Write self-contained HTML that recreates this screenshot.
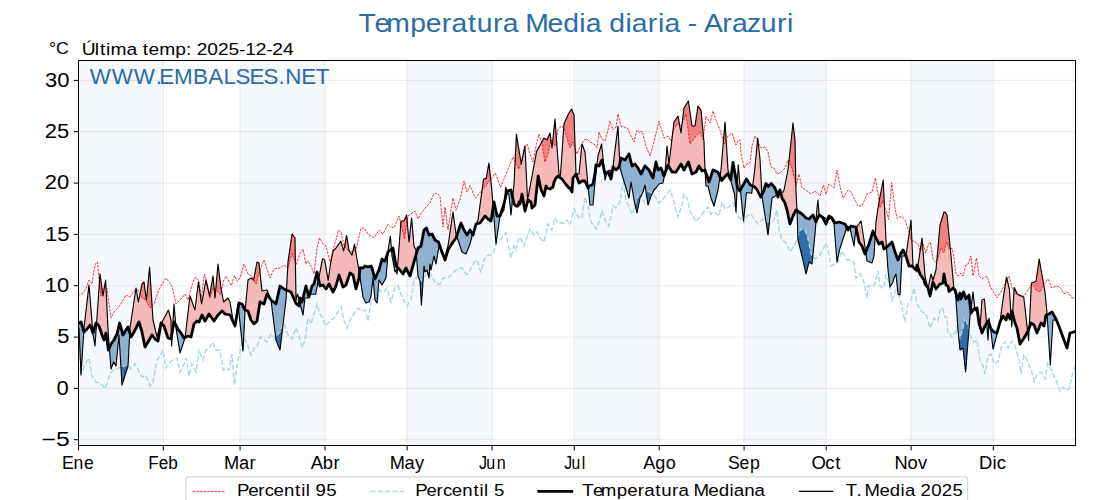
<!DOCTYPE html>
<html><head><meta charset="utf-8"><style>
html,body{margin:0;padding:0;background:#fff;}
svg{display:block;}
text{font-family:"Liberation Sans",sans-serif;}
</style></head><body>
<svg width="1120" height="500" viewBox="0 0 1120 500">
<rect width="1120" height="500" fill="#fff"/>

<defs><clipPath id="pc"><rect x="78.5" y="60.5" width="997.0" height="385.0"/></clipPath></defs>
<rect x="78.5" y="60.5" width="84.9" height="385.0" fill="#f5f8fc"/><rect x="240.1" y="60.5" width="84.9" height="385.0" fill="#f5f8fc"/><rect x="407.2" y="60.5" width="84.9" height="385.0" fill="#f5f8fc"/><rect x="574.3" y="60.5" width="84.9" height="385.0" fill="#f5f8fc"/><rect x="744.1" y="60.5" width="82.2" height="385.0" fill="#f5f8fc"/><rect x="911.2" y="60.5" width="82.2" height="385.0" fill="#f5f8fc"/>
<g stroke="#b0b0b0" stroke-opacity="0.25" stroke-width="1"><line x1="78.5" x2="1075.5" y1="439.7" y2="439.7"/><line x1="78.5" x2="1075.5" y1="388.4" y2="388.4"/><line x1="78.5" x2="1075.5" y1="337.1" y2="337.1"/><line x1="78.5" x2="1075.5" y1="285.7" y2="285.7"/><line x1="78.5" x2="1075.5" y1="234.4" y2="234.4"/><line x1="78.5" x2="1075.5" y1="183.1" y2="183.1"/><line x1="78.5" x2="1075.5" y1="131.7" y2="131.7"/><line x1="78.5" x2="1075.5" y1="80.4" y2="80.4"/><line x1="78.5" x2="78.5" y1="60.5" y2="445.5"/><line x1="163.4" x2="163.4" y1="60.5" y2="445.5"/><line x1="240.1" x2="240.1" y1="60.5" y2="445.5"/><line x1="325.0" x2="325.0" y1="60.5" y2="445.5"/><line x1="407.2" x2="407.2" y1="60.5" y2="445.5"/><line x1="492.1" x2="492.1" y1="60.5" y2="445.5"/><line x1="574.3" x2="574.3" y1="60.5" y2="445.5"/><line x1="659.2" x2="659.2" y1="60.5" y2="445.5"/><line x1="744.1" x2="744.1" y1="60.5" y2="445.5"/><line x1="826.2" x2="826.2" y1="60.5" y2="445.5"/><line x1="911.2" x2="911.2" y1="60.5" y2="445.5"/><line x1="993.3" x2="993.3" y1="60.5" y2="445.5"/></g>
<g clip-path="url(#pc)">
<path d="M83.5,330.3 84.0,328.0 84.5,323.7 85.0,319.4 85.5,315.1 86.0,310.8 86.5,306.5 87.0,302.2 87.5,297.9 88.0,293.6 88.5,289.3 89.0,285.0 89.5,291.1 90.0,297.2 90.5,303.4 91.0,309.5 91.5,315.6 92.0,321.8 92.5,327.9 93.0,333.0 93.0,333.0 92.5,331.7 92.0,330.3 91.5,329.0 91.0,327.7 90.5,326.3 90.0,325.0 89.5,325.7 89.0,326.3 88.5,327.0 88.0,327.7 87.5,328.3 87.0,329.0 86.5,329.5 86.0,330.0 85.5,330.5 85.0,331.0 84.5,331.5 84.0,332.0 83.5,330.3ZM96.5,323.5 97.0,317.2 97.5,310.0 98.0,302.8 98.5,295.6 99.0,288.4 99.5,281.2 100.0,274.0 100.5,277.7 101.0,281.3 101.5,285.0 102.0,288.7 102.5,292.3 103.0,296.0 103.5,292.9 104.0,289.8 104.5,286.8 105.0,283.7 105.5,280.6 106.0,288.2 106.5,298.3 107.0,308.5 107.5,318.7 108.0,328.9 108.5,336.9 109.0,343.3 109.5,347.5 109.5,347.5 109.0,348.6 108.5,349.8 108.0,347.2 107.5,343.6 107.0,340.1 106.5,336.5 106.0,333.0 105.5,334.8 105.0,336.5 104.5,338.2 104.0,340.0 103.5,338.8 103.0,337.5 102.5,336.2 102.0,335.0 101.5,333.5 101.0,332.0 100.5,330.5 100.0,329.0 99.5,327.5 99.0,326.0 98.5,325.5 98.0,325.0 97.5,324.5 97.0,324.0 96.5,323.5ZM129.5,332.0 130.0,328.0 130.5,324.7 131.0,321.3 131.5,318.0 132.0,314.7 132.5,311.3 133.0,308.0 133.5,304.7 134.0,301.3 134.5,298.0 135.0,294.7 135.5,291.3 136.0,288.0 136.5,290.9 137.0,293.8 137.5,296.8 138.0,299.7 138.5,301.5 139.0,299.0 139.5,296.5 140.0,294.0 140.5,291.5 141.0,289.0 141.5,286.5 142.0,284.0 142.5,283.5 143.0,283.0 143.5,282.5 144.0,282.0 144.5,285.8 145.0,289.5 145.5,293.2 146.0,297.0 146.5,299.0 147.0,293.8 147.5,288.7 148.0,283.5 148.5,278.3 149.0,273.2 149.5,268.0 150.0,273.2 150.5,281.0 151.0,288.8 151.5,296.6 152.0,304.4 152.5,312.2 153.0,320.0 153.5,322.1 154.0,324.2 154.5,326.4 155.0,328.5 155.5,330.6 156.0,332.8 156.5,334.9 157.0,337.0 157.5,335.2 158.0,333.3 158.5,331.5 159.0,329.7 159.5,327.8 160.0,326.0 160.5,325.0 161.0,323.0 161.0,323.0 160.5,326.0 160.0,329.0 159.5,332.0 159.0,335.0 158.5,338.0 158.0,341.0 157.5,340.7 157.0,340.3 156.5,340.0 156.0,339.7 155.5,339.3 155.0,339.0 154.5,338.3 154.0,337.7 153.5,337.0 153.0,336.3 152.5,335.7 152.0,335.0 151.5,335.9 151.0,336.8 150.5,337.6 150.0,338.5 149.5,339.4 149.0,340.2 148.5,341.1 148.0,342.0 147.5,342.8 147.0,343.7 146.5,344.5 146.0,345.3 145.5,346.2 145.0,347.0 144.5,344.5 144.0,342.0 143.5,339.5 143.0,337.0 142.5,334.5 142.0,332.0 141.5,330.3 141.0,328.7 140.5,327.0 140.0,325.3 139.5,323.7 139.0,322.0 138.5,323.0 138.0,324.0 137.5,325.0 137.0,326.0 136.5,327.0 136.0,328.0 135.5,329.0 135.0,330.0 134.5,331.0 134.0,332.0 133.5,332.8 133.0,333.7 132.5,334.5 132.0,335.3 131.5,336.2 131.0,337.0 130.5,335.3 130.0,333.7 129.5,332.0ZM161.0,323.0 161.5,323.1 162.0,322.2 162.5,321.2 163.0,320.3 163.5,319.3 164.0,318.4 164.5,317.4 165.0,316.5 165.5,315.5 166.0,314.6 166.5,313.6 167.0,312.7 167.5,311.7 168.0,310.8 168.5,310.4 169.0,312.3 169.5,314.2 170.0,316.2 170.5,318.1 171.0,320.0 171.5,336.2 171.5,336.2 171.0,339.0 170.5,338.8 170.0,338.7 169.5,338.5 169.0,338.3 168.5,338.2 168.0,338.0 167.5,336.5 167.0,335.0 166.5,333.5 166.0,332.0 165.5,330.5 165.0,329.0 164.5,327.5 164.0,326.0 163.5,325.5 163.0,325.0 162.5,324.5 162.0,324.0 161.5,323.5 161.0,323.0ZM172.0,333.3 172.5,330.2 173.0,321.5 173.5,312.8 174.0,304.0 174.5,310.0 175.0,316.0 175.5,322.0 176.0,325.5 176.0,325.5 175.5,324.6 175.0,323.8 174.5,322.9 174.0,322.0 173.5,324.8 173.0,327.7 172.5,330.5 172.0,333.3ZM185.0,337.5 185.5,333.8 186.0,329.6 186.5,325.4 187.0,321.2 187.5,317.0 188.0,312.8 188.5,308.6 189.0,304.4 189.5,300.2 190.0,296.0 190.5,297.4 191.0,298.8 191.5,300.2 192.0,301.6 192.5,303.0 193.0,304.4 193.5,305.8 194.0,307.2 194.5,308.6 195.0,310.0 195.5,305.9 196.0,301.8 196.5,297.6 197.0,293.5 197.5,289.4 198.0,285.3 198.5,282.7 199.0,286.1 199.5,289.6 200.0,293.0 200.5,296.4 201.0,299.9 201.5,303.3 202.0,301.8 202.5,299.1 203.0,296.4 203.5,293.6 204.0,290.9 204.5,288.2 205.0,285.5 205.5,282.7 206.0,280.0 206.5,282.2 207.0,284.4 207.5,286.7 208.0,288.9 208.5,291.1 209.0,293.3 209.5,295.6 210.0,293.6 210.5,290.7 211.0,287.8 211.5,284.8 212.0,281.9 212.5,278.9 213.0,276.0 213.5,281.5 214.0,287.0 214.5,292.5 215.0,298.0 215.5,292.3 216.0,286.7 216.5,281.0 217.0,275.3 217.5,269.7 218.0,264.0 218.5,268.0 219.0,272.0 219.5,276.0 220.0,280.0 220.5,284.0 221.0,288.0 221.5,290.7 222.0,293.4 222.5,296.1 223.0,298.8 223.5,301.5 224.0,301.6 224.5,301.2 225.0,300.7 225.5,300.3 226.0,299.8 226.5,299.4 227.0,298.9 227.5,298.5 228.0,298.0 228.5,299.0 229.0,300.0 229.5,301.0 230.0,302.0 230.5,305.0 231.0,308.0 231.5,311.0 232.0,314.0 232.5,317.0 233.0,320.0 233.5,321.5 234.0,323.0 234.5,324.5 235.0,326.0 235.0,326.0 234.5,324.9 234.0,323.8 233.5,322.7 233.0,321.6 232.5,320.5 232.0,319.4 231.5,318.3 231.0,317.2 230.5,316.1 230.0,315.0 229.5,314.9 229.0,314.8 228.5,314.7 228.0,314.6 227.5,314.5 227.0,314.4 226.5,314.3 226.0,314.2 225.5,314.1 225.0,314.0 224.5,313.5 224.0,313.0 223.5,312.5 223.0,312.0 222.5,311.5 222.0,311.0 221.5,311.5 221.0,312.0 220.5,312.5 220.0,313.0 219.5,313.5 219.0,314.0 218.5,314.5 218.0,315.0 217.5,315.8 217.0,316.5 216.5,317.2 216.0,318.0 215.5,318.8 215.0,319.5 214.5,320.2 214.0,321.0 213.5,320.3 213.0,319.6 212.5,318.9 212.0,318.2 211.5,317.5 211.0,316.8 210.5,316.1 210.0,315.4 209.5,314.7 209.0,314.0 208.5,314.9 208.0,315.8 207.5,316.6 207.0,317.5 206.5,318.4 206.0,319.2 205.5,320.1 205.0,321.0 204.5,320.0 204.0,319.0 203.5,318.0 203.0,317.0 202.5,316.0 202.0,315.0 201.5,316.2 201.0,317.3 200.5,318.5 200.0,319.7 199.5,320.8 199.0,322.0 198.5,321.8 198.0,321.5 197.5,321.2 197.0,321.0 196.5,321.5 196.0,322.0 195.5,322.5 195.0,323.0 194.5,323.5 194.0,324.0 193.5,326.2 193.0,328.3 192.5,330.5 192.0,332.7 191.5,334.8 191.0,337.0 190.5,336.8 190.0,336.7 189.5,336.5 189.0,336.3 188.5,336.2 188.0,336.0 187.5,336.2 187.0,336.5 186.5,336.8 186.0,337.0 185.5,337.2 185.0,337.5ZM235.0,326.0 235.5,322.3 236.0,318.7 236.5,315.0 237.0,311.3 237.5,307.7 238.0,304.0 238.5,305.9 238.5,305.9 238.0,308.8 237.5,311.6 237.0,314.5 236.5,317.4 236.0,320.2 235.5,323.1 235.0,326.0ZM245.0,310.0 245.5,306.7 246.0,301.3 246.5,296.0 247.0,290.7 247.5,285.3 248.0,280.0 248.5,279.7 249.0,279.3 249.5,279.0 250.0,278.7 250.5,278.3 251.0,278.0 251.5,278.4 252.0,278.8 252.5,279.2 253.0,279.5 253.5,279.9 254.0,277.9 254.5,275.2 255.0,272.6 255.5,269.9 256.0,267.3 256.5,264.6 257.0,262.0 257.5,262.2 258.0,262.5 258.5,262.8 259.0,263.0 259.5,267.7 260.0,272.3 260.5,277.0 261.0,281.7 261.5,286.3 262.0,291.0 262.5,290.9 263.0,290.8 263.5,290.7 264.0,290.6 264.5,290.5 265.0,290.4 265.5,290.3 266.0,290.2 266.5,290.1 267.0,290.0 267.5,291.2 268.0,292.5 268.5,293.8 269.0,295.0 269.5,296.2 270.0,297.5 270.5,298.8 271.0,300.0 271.0,300.0 270.5,299.2 270.0,298.5 269.5,297.8 269.0,297.0 268.5,296.2 268.0,295.5 267.5,294.8 267.0,294.0 266.5,295.7 266.0,297.3 265.5,299.0 265.0,300.7 264.5,302.3 264.0,304.0 263.5,303.8 263.0,303.5 262.5,303.2 262.0,303.0 261.5,302.8 261.0,302.5 260.5,302.2 260.0,302.0 259.5,305.2 259.0,308.3 258.5,311.5 258.0,314.7 257.5,317.8 257.0,321.0 256.5,321.5 256.0,322.0 255.5,322.5 255.0,323.0 254.5,323.5 254.0,324.0 253.5,323.3 253.0,322.7 252.5,322.0 252.0,321.3 251.5,320.7 251.0,320.0 250.5,318.5 250.0,317.0 249.5,315.5 249.0,314.0 248.5,312.5 248.0,311.0 247.5,310.8 247.0,310.7 246.5,310.5 246.0,310.3 245.5,310.2 245.0,310.0ZM286.5,290.2 287.0,281.0 287.5,271.5 288.0,262.0 288.5,258.5 289.0,255.0 289.5,251.5 290.0,248.0 290.5,244.5 291.0,241.0 291.5,237.5 292.0,234.0 292.5,234.7 293.0,235.3 293.5,236.0 294.0,236.7 294.5,237.3 295.0,238.0 295.5,269.0 296.0,300.0 296.5,298.1 297.0,296.3 297.5,294.4 298.0,295.6 298.5,297.6 299.0,299.5 299.5,301.5 300.0,298.0 300.0,298.0 299.5,302.0 299.0,306.0 298.5,305.6 298.0,305.2 297.5,304.8 297.0,304.3 296.5,303.9 296.0,303.5 295.5,302.4 295.0,301.2 294.5,300.1 294.0,298.9 293.5,297.8 293.0,296.6 292.5,295.4 292.0,294.3 291.5,293.1 291.0,292.0 290.5,291.8 290.0,291.6 289.5,291.4 289.0,291.2 288.5,291.0 288.0,290.8 287.5,290.6 287.0,290.4 286.5,290.2ZM308.5,295.2 309.0,296.0 309.5,295.0 310.0,293.3 310.0,293.3 309.5,295.2 309.0,297.0 308.5,295.2ZM318.5,279.0 319.0,277.0 319.5,274.5 320.0,271.9 320.5,269.4 321.0,266.8 321.5,264.3 322.0,261.8 322.5,259.2 323.0,258.9 323.5,259.3 324.0,259.6 324.5,259.9 325.0,261.7 325.5,264.6 326.0,267.5 326.5,270.4 327.0,273.3 327.5,276.2 328.0,279.1 328.5,278.1 329.0,274.5 329.5,270.8 330.0,267.2 330.5,264.0 331.0,261.5 331.5,259.0 332.0,256.5 332.5,254.0 333.0,251.5 333.5,250.6 334.0,250.1 334.5,249.6 335.0,249.1 335.5,248.6 336.0,248.1 336.5,247.3 337.0,246.6 337.5,245.9 338.0,245.2 338.5,244.5 339.0,243.8 339.5,243.1 340.0,242.3 340.5,241.6 341.0,241.9 341.5,243.6 342.0,245.4 342.5,247.1 343.0,248.9 343.5,250.6 344.0,248.9 344.5,246.4 345.0,243.8 345.5,241.2 346.0,238.7 346.5,236.1 347.0,238.0 347.5,240.9 348.0,243.9 348.5,246.9 349.0,249.8 349.5,251.5 350.0,252.2 350.5,253.0 351.0,253.7 351.5,254.4 352.0,255.2 352.5,253.0 353.0,250.7 353.5,248.5 354.0,246.2 354.5,244.0 355.0,247.1 355.5,250.2 356.0,253.3 356.5,256.2 357.0,259.1 357.5,262.0 358.0,264.9 358.5,267.7 359.0,270.6 359.5,273.0 359.5,273.0 359.0,278.0 358.5,279.8 358.0,281.7 357.5,283.5 357.0,285.3 356.5,287.2 356.0,289.0 355.5,286.7 355.0,284.3 354.5,282.0 354.0,279.7 353.5,277.3 353.0,275.0 352.5,274.7 352.0,274.3 351.5,274.0 351.0,273.7 350.5,273.3 350.0,273.0 349.5,274.5 349.0,276.0 348.5,277.5 348.0,279.0 347.5,280.5 347.0,282.0 346.5,283.5 346.0,285.0 345.5,285.3 345.0,285.7 344.5,286.0 344.0,286.3 343.5,286.7 343.0,287.0 342.5,285.5 342.0,284.0 341.5,282.5 341.0,281.0 340.5,279.5 340.0,278.0 339.5,276.5 339.0,275.0 338.5,276.8 338.0,278.7 337.5,280.5 337.0,282.3 336.5,284.2 336.0,286.0 335.5,287.0 335.0,288.0 334.5,289.0 334.0,290.0 333.5,291.0 333.0,292.0 332.5,291.0 332.0,290.0 331.5,289.0 331.0,288.0 330.5,287.0 330.0,286.0 329.5,285.0 329.0,284.0 328.5,284.8 328.0,285.7 327.5,286.5 327.0,287.3 326.5,288.2 326.0,289.0 325.5,288.3 325.0,287.7 324.5,287.0 324.0,286.3 323.5,285.7 323.0,285.0 322.5,285.2 322.0,285.3 321.5,285.5 321.0,285.7 320.5,285.8 320.0,286.0 319.5,283.7 319.0,281.3 318.5,279.0ZM388.0,252.0 388.5,247.4 389.0,244.4 389.5,241.4 390.0,238.4 390.5,237.3 391.0,243.5 391.5,249.2 391.5,249.2 391.0,249.6 390.5,250.0 390.0,250.4 389.5,250.8 389.0,251.2 388.5,251.6 388.0,252.0ZM397.0,267.0 397.5,267.4 398.0,260.8 398.5,254.1 399.0,247.5 399.5,240.9 400.0,234.2 400.5,227.6 401.0,221.0 401.5,221.0 402.0,221.0 402.5,221.0 403.0,221.0 403.5,221.0 404.0,221.0 404.5,219.8 405.0,218.7 405.5,217.5 406.0,216.4 406.5,215.2 407.0,219.5 407.5,225.1 408.0,230.7 408.5,236.4 409.0,242.0 409.5,237.4 410.0,232.8 410.5,228.2 411.0,223.5 411.5,218.9 412.0,222.7 412.5,228.5 413.0,234.3 413.5,240.2 414.0,246.0 414.5,247.0 415.0,248.0 415.5,249.0 416.0,250.0 416.5,253.2 416.5,253.2 416.0,255.0 415.5,256.8 415.0,258.5 414.5,260.2 414.0,262.0 413.5,263.8 413.0,265.5 412.5,267.2 412.0,269.0 411.5,270.8 411.0,272.5 410.5,274.2 410.0,276.0 409.5,275.0 409.0,274.0 408.5,273.0 408.0,272.0 407.5,271.0 407.0,270.0 406.5,269.0 406.0,268.0 405.5,269.0 405.0,270.0 404.5,271.0 404.0,272.0 403.5,273.0 403.0,274.0 402.5,273.3 402.0,272.7 401.5,272.0 401.0,271.3 400.5,270.7 400.0,270.0 399.5,269.5 399.0,269.0 398.5,268.5 398.0,268.0 397.5,267.5 397.0,267.0ZM443.0,254.7 443.5,255.5 444.0,256.0 444.5,256.5 445.0,257.0 445.5,255.2 446.0,253.3 446.5,251.5 447.0,249.7 447.5,247.8 448.0,246.0 448.5,242.6 449.0,239.2 449.5,235.8 450.0,232.4 450.5,229.0 451.0,225.6 451.5,222.2 452.0,218.8 452.5,215.4 453.0,212.0 453.5,215.7 454.0,219.3 454.5,223.0 455.0,226.7 455.5,230.3 456.0,234.0 456.5,235.5 457.0,235.0 457.0,235.0 456.5,236.5 456.0,238.0 455.5,238.7 455.0,239.3 454.5,240.0 454.0,240.7 453.5,241.3 453.0,242.0 452.5,242.8 452.0,243.6 451.5,244.4 451.0,245.2 450.5,246.0 450.0,246.8 449.5,247.6 449.0,248.4 448.5,249.2 448.0,250.0 447.5,251.7 447.0,253.3 446.5,255.0 446.0,256.7 445.5,258.3 445.0,260.0 444.5,258.7 444.0,257.3 443.5,256.0 443.0,254.7ZM472.5,234.2 473.0,233.3 473.5,232.0 474.0,230.7 474.5,229.3 475.0,227.7 475.0,227.7 474.5,229.5 474.0,231.3 473.5,233.2 473.0,235.0 472.5,234.2ZM476.5,223.9 477.0,222.7 477.5,221.3 478.0,220.0 478.5,216.3 479.0,212.6 479.5,208.9 480.0,205.2 480.5,201.5 481.0,197.8 481.5,194.1 482.0,190.4 482.5,186.7 483.0,183.0 483.5,179.3 484.0,179.1 484.5,179.0 485.0,178.8 485.5,178.6 486.0,178.5 486.5,176.7 487.0,173.9 487.5,171.0 488.0,168.2 488.5,165.4 489.0,164.0 489.5,168.5 490.0,173.0 490.5,177.5 491.0,182.0 491.5,186.5 492.0,192.5 492.5,199.0 493.0,205.4 493.5,205.2 493.5,205.2 493.0,208.3 492.5,211.5 492.0,214.7 491.5,217.8 491.0,221.0 490.5,220.7 490.0,220.3 489.5,220.0 489.0,219.7 488.5,219.3 488.0,219.0 487.5,218.5 487.0,218.0 486.5,217.5 486.0,217.0 485.5,216.5 485.0,216.0 484.5,216.7 484.0,217.4 483.5,218.1 483.0,218.8 482.5,219.5 482.0,220.2 481.5,220.9 481.0,221.6 480.5,222.3 480.0,223.0 479.5,223.1 479.0,223.2 478.5,223.4 478.0,223.5 477.5,223.6 477.0,223.8 476.5,223.9ZM504.5,201.8 505.0,195.9 505.5,188.8 506.0,188.3 506.5,189.4 507.0,190.5 507.5,190.9 507.5,190.9 507.0,191.0 506.5,193.2 506.0,195.3 505.5,197.5 505.0,199.7 504.5,201.8ZM512.5,197.0 513.0,194.3 513.5,189.2 514.0,184.0 514.5,173.6 515.0,163.3 515.5,152.9 516.0,142.6 516.5,134.9 517.0,137.9 517.5,141.0 518.0,144.0 518.5,147.0 519.0,150.1 519.5,153.1 520.0,156.1 520.5,159.2 521.0,162.2 521.5,163.0 522.0,160.5 522.5,158.0 523.0,155.5 523.5,153.0 524.0,150.5 524.5,148.0 525.0,148.0 525.5,158.0 526.0,168.0 526.5,178.0 527.0,188.0 527.5,198.0 528.0,197.8 528.5,195.1 529.0,192.4 529.5,189.7 530.0,187.0 530.5,184.3 531.0,181.6 531.5,178.9 532.0,176.2 532.5,173.5 533.0,170.8 533.5,168.1 534.0,165.4 534.5,162.7 535.0,160.0 535.5,157.3 536.0,154.6 536.5,151.9 537.0,150.7 537.5,149.8 538.0,148.9 538.5,148.0 539.0,147.1 539.5,146.1 540.0,145.2 540.5,144.3 541.0,143.4 541.5,142.5 542.0,141.6 542.5,140.7 543.0,139.8 543.5,138.9 544.0,138.0 544.5,138.3 545.0,138.7 545.5,139.0 546.0,139.3 546.5,139.7 547.0,140.0 547.5,138.8 548.0,137.7 548.5,136.5 549.0,135.3 549.5,134.2 550.0,133.0 550.5,136.8 551.0,140.5 551.5,144.2 552.0,148.0 552.5,143.2 553.0,138.3 553.5,133.5 554.0,128.7 554.5,123.8 555.0,119.0 555.5,125.9 556.0,132.8 556.5,139.6 557.0,146.5 557.5,153.4 558.0,160.2 558.5,167.1 559.0,174.0 559.5,174.7 560.0,175.4 560.5,174.6 561.0,167.3 561.5,160.1 562.0,152.9 562.5,145.7 563.0,138.4 563.5,131.2 564.0,124.0 564.5,122.9 565.0,121.7 565.5,120.6 566.0,119.5 566.5,118.3 567.0,117.2 567.5,116.0 568.0,114.9 568.5,113.8 569.0,113.1 569.5,112.3 570.0,111.5 570.5,110.7 571.0,109.9 571.5,109.2 572.0,110.0 572.5,111.2 573.0,112.5 573.5,113.7 574.0,115.0 574.5,129.8 575.0,144.5 575.5,159.2 576.0,174.0 576.0,174.0 575.5,174.7 575.0,175.3 574.5,176.0 574.0,176.7 573.5,177.3 573.0,178.0 572.5,185.0 572.0,192.0 571.5,191.0 571.0,190.0 570.5,189.0 570.0,188.0 569.5,188.0 569.0,188.0 568.5,187.4 568.0,186.8 567.5,186.2 567.0,185.7 566.5,185.1 566.0,184.5 565.5,183.8 565.0,183.1 564.5,182.4 564.0,181.8 563.5,181.1 563.0,180.4 562.5,179.7 562.0,179.0 561.5,178.7 561.0,178.3 560.5,178.0 560.0,177.7 559.5,177.3 559.0,177.0 558.5,176.5 558.0,176.0 557.5,176.5 557.0,177.0 556.5,177.5 556.0,178.0 555.5,179.0 555.0,180.0 554.5,181.0 554.0,182.0 553.5,184.5 553.0,187.0 552.5,187.3 552.0,187.7 551.5,188.0 551.0,188.3 550.5,188.7 550.0,189.0 549.5,188.8 549.0,188.7 548.5,188.5 548.0,188.3 547.5,188.2 547.0,188.0 546.5,187.0 546.0,186.0 545.5,188.5 545.0,191.0 544.5,193.5 544.0,196.0 543.5,194.9 543.0,193.8 542.5,192.8 542.0,191.7 541.5,190.6 541.0,189.5 540.5,187.1 540.0,184.7 539.5,182.3 539.0,179.9 538.5,177.4 538.0,177.8 537.5,182.3 537.0,186.9 536.5,191.4 536.0,195.9 535.5,200.5 535.0,205.0 534.5,205.5 534.0,206.0 533.5,206.5 533.0,207.0 532.5,207.5 532.0,208.0 531.5,205.0 531.0,202.0 530.5,201.7 530.0,201.3 529.5,201.0 529.0,200.7 528.5,200.3 528.0,200.0 527.5,201.8 527.0,203.7 526.5,205.5 526.0,207.3 525.5,209.2 525.0,211.0 524.5,208.2 524.0,205.3 523.5,202.5 523.0,199.7 522.5,196.8 522.0,194.0 521.5,196.5 521.0,199.0 520.5,201.5 520.0,204.0 519.5,203.0 519.0,202.0 518.5,204.0 518.0,206.0 517.5,206.0 517.0,206.0 516.5,206.0 516.0,206.0 515.5,205.5 515.0,205.0 514.5,204.5 514.0,204.0 513.5,201.7 513.0,199.3 512.5,197.0ZM576.0,174.0 576.5,174.0 577.0,174.0 577.5,174.0 578.0,174.0 578.5,174.0 579.0,174.0 579.5,169.0 580.0,164.0 580.5,159.0 581.0,154.0 581.5,149.0 582.0,144.0 582.5,145.3 583.0,146.7 583.5,148.0 584.0,149.3 584.5,150.7 585.0,152.0 585.5,157.7 586.0,163.3 586.5,169.0 587.0,174.7 587.5,180.3 588.0,186.0 588.5,187.0 588.5,187.0 588.0,188.0 587.5,186.8 587.0,185.7 586.5,184.5 586.0,183.3 585.5,182.2 585.0,181.0 584.5,181.0 584.0,181.0 583.5,181.0 583.0,181.0 582.5,181.0 582.0,181.0 581.5,181.3 581.0,181.7 580.5,182.0 580.0,182.3 579.5,182.7 579.0,183.0 578.5,181.5 578.0,180.0 577.5,178.5 577.0,177.0 576.5,175.5 576.0,174.0ZM596.5,165.2 597.0,164.7 597.5,160.3 598.0,156.0 598.5,154.3 599.0,152.7 599.5,151.0 600.0,149.3 600.5,147.7 601.0,146.0 601.5,144.3 602.0,148.0 602.5,153.0 603.0,158.0 603.5,163.0 604.0,168.0 604.5,171.7 604.5,171.7 604.0,169.3 603.5,167.0 603.0,164.7 602.5,162.3 602.0,160.0 601.5,161.0 601.0,162.0 600.5,163.0 600.0,164.0 599.5,165.0 599.0,166.0 598.5,165.8 598.0,165.7 597.5,165.5 597.0,165.3 596.5,165.2ZM606.5,173.0 607.0,172.0 607.5,171.7 608.0,171.3 608.5,171.0 609.0,170.7 609.5,170.3 610.0,170.0 610.5,171.8 611.0,173.5 611.5,175.2 612.0,173.0 612.0,173.0 611.5,176.0 611.0,179.0 610.5,177.8 610.0,176.7 609.5,175.5 609.0,174.3 608.5,173.2 608.0,172.0 607.5,172.3 607.0,172.7 606.5,173.0ZM613.0,167.0 613.5,162.8 614.0,158.0 614.5,154.0 615.0,150.0 615.5,146.0 616.0,142.0 616.5,138.0 617.0,134.0 617.5,130.0 618.0,126.0 618.5,136.5 619.0,147.0 619.5,157.5 620.0,162.5 620.0,162.5 619.5,164.8 619.0,167.0 618.5,167.5 618.0,168.0 617.5,168.5 617.0,169.0 616.5,169.5 616.0,170.0 615.5,169.5 615.0,169.0 614.5,168.5 614.0,168.0 613.5,167.5 613.0,167.0ZM664.5,174.6 665.0,173.0 665.5,166.2 666.0,159.5 666.5,152.8 667.0,146.0 667.5,150.5 668.0,155.0 668.5,159.5 669.0,164.0 669.5,159.8 670.0,155.6 670.5,151.4 671.0,147.2 671.5,143.0 672.0,138.8 672.5,134.6 673.0,130.4 673.5,126.2 674.0,122.0 674.5,121.2 675.0,120.5 675.5,119.8 676.0,119.0 676.5,118.2 677.0,117.5 677.5,116.8 678.0,116.0 678.5,118.8 679.0,121.7 679.5,124.5 680.0,127.3 680.5,130.2 681.0,133.0 681.5,128.8 682.0,124.7 682.5,120.5 683.0,116.3 683.5,112.2 684.0,108.0 684.5,107.2 685.0,106.4 685.5,105.6 686.0,104.8 686.5,104.0 687.0,103.2 687.5,102.4 688.0,101.6 688.5,101.7 689.0,105.2 689.5,108.6 690.0,112.1 690.5,115.6 691.0,119.1 691.5,122.5 692.0,126.0 692.5,126.0 693.0,126.0 693.5,126.0 694.0,126.0 694.5,126.0 695.0,126.0 695.5,122.7 696.0,119.3 696.5,116.0 697.0,112.7 697.5,109.3 698.0,106.0 698.5,106.7 699.0,107.3 699.5,108.0 700.0,108.7 700.5,109.3 701.0,110.0 701.5,115.3 702.0,120.7 702.5,126.0 703.0,131.3 703.5,136.7 704.0,142.0 704.5,156.0 705.0,170.0 705.0,170.0 704.5,170.2 704.0,170.3 703.5,170.5 703.0,170.7 702.5,170.8 702.0,171.0 701.5,170.2 701.0,169.3 700.5,168.5 700.0,167.7 699.5,166.8 699.0,166.0 698.5,167.0 698.0,168.0 697.5,169.0 697.0,170.0 696.5,171.0 696.0,172.0 695.5,172.2 695.0,172.5 694.5,172.8 694.0,173.0 693.5,173.2 693.0,173.5 692.5,173.8 692.0,174.0 691.5,172.3 691.0,170.7 690.5,169.0 690.0,167.3 689.5,165.7 689.0,164.0 688.5,162.3 688.0,162.7 687.5,163.6 687.0,164.5 686.5,165.5 686.0,166.4 685.5,167.3 685.0,168.2 684.5,169.1 684.0,170.0 683.5,169.0 683.0,168.0 682.5,167.0 682.0,166.0 681.5,165.0 681.0,164.0 680.5,164.8 680.0,165.6 679.5,166.4 679.0,167.2 678.5,168.0 678.0,168.8 677.5,169.6 677.0,170.4 676.5,171.2 676.0,172.0 675.5,172.0 675.0,172.0 674.5,172.0 674.0,172.0 673.5,172.0 673.0,172.0 672.5,172.0 672.0,172.0 671.5,171.1 671.0,170.2 670.5,169.4 670.0,168.5 669.5,167.6 669.0,166.8 668.5,165.9 668.0,165.0 667.5,166.4 667.0,167.8 666.5,169.1 666.0,170.5 665.5,171.9 665.0,173.2 664.5,174.6ZM719.5,175.6 720.0,176.7 720.5,173.3 721.0,170.0 721.5,164.0 722.0,158.0 722.5,152.0 723.0,146.0 723.5,140.0 724.0,134.0 724.5,128.0 725.0,122.0 725.5,130.0 726.0,138.0 726.5,146.0 727.0,154.0 727.5,162.0 728.0,170.0 728.5,171.9 729.0,173.8 729.5,175.6 730.0,177.5 730.5,179.3 731.0,177.5 731.0,177.5 730.5,179.4 730.0,178.4 729.5,177.4 729.0,176.4 728.5,175.4 728.0,174.4 727.5,174.0 727.0,174.5 726.5,175.0 726.0,175.5 725.5,176.0 725.0,176.5 724.5,177.0 724.0,177.7 723.5,178.3 723.0,178.9 722.5,179.5 722.0,180.1 721.5,180.1 721.0,178.9 720.5,177.8 720.0,176.7 719.5,175.6ZM737.0,185.1 737.5,179.8 738.0,169.0 738.5,168.1 739.0,173.8 739.5,179.6 740.0,185.3 740.5,189.6 740.5,189.6 740.0,190.5 739.5,190.7 739.0,190.0 738.5,189.4 738.0,188.7 737.5,188.0 737.0,185.1ZM752.5,185.9 753.0,183.1 753.5,179.3 754.0,175.4 754.5,171.5 755.0,166.8 755.5,161.5 756.0,156.1 756.5,150.8 757.0,145.5 757.5,140.1 758.0,140.8 758.5,145.5 759.0,150.2 759.5,154.8 760.0,159.5 760.5,168.6 761.0,177.8 761.5,186.9 762.0,194.4 762.0,194.4 761.5,195.4 761.0,196.4 760.5,196.6 760.0,195.6 759.5,194.6 759.0,193.6 758.5,192.5 758.0,191.5 757.5,190.5 757.0,189.5 756.5,189.0 756.0,188.5 755.5,188.0 755.0,187.5 754.5,187.0 754.0,186.5 753.5,186.3 753.0,186.1 752.5,185.9ZM777.0,194.0 777.5,194.8 778.0,194.5 778.5,194.3 779.0,192.0 779.0,192.0 778.5,194.5 778.0,197.0 777.5,195.5 777.0,194.0ZM780.5,192.0 781.0,193.0 781.5,192.8 782.0,192.5 782.5,192.2 783.0,192.0 783.5,191.0 784.0,190.0 784.5,187.5 785.0,185.0 785.5,182.5 786.0,180.0 786.5,177.5 787.0,175.0 787.5,172.5 788.0,170.0 788.5,165.3 789.0,160.6 789.5,155.9 790.0,151.2 790.5,146.5 791.0,141.8 791.5,137.1 792.0,132.4 792.5,127.7 793.0,123.0 793.5,127.2 794.0,131.5 794.5,135.8 795.0,140.0 795.5,166.0 796.0,192.0 796.5,201.0 797.0,210.0 797.5,211.0 797.5,211.0 797.0,210.7 796.5,210.3 796.0,210.0 795.5,211.0 795.0,212.0 794.5,213.0 794.0,214.0 793.5,215.0 793.0,216.0 792.5,217.3 792.0,218.7 791.5,220.0 791.0,221.3 790.5,222.7 790.0,224.0 789.5,221.7 789.0,219.3 788.5,217.0 788.0,214.7 787.5,212.3 787.0,210.0 786.5,208.2 786.0,206.5 785.5,204.8 785.0,203.0 784.5,202.2 784.0,201.3 783.5,200.5 783.0,199.7 782.5,198.8 782.0,198.0 781.5,196.0 781.0,194.0 780.5,192.0ZM815.5,220.8 816.0,221.0 816.5,214.5 817.0,208.0 817.5,204.0 818.0,200.0 818.5,207.0 819.0,214.0 819.5,214.3 820.0,214.7 820.5,215.0 821.0,215.3 821.5,215.7 822.0,216.0 822.5,216.3 823.0,216.7 823.5,217.0 824.0,217.3 824.5,217.7 825.0,218.0 825.5,218.3 826.0,218.7 826.5,219.0 827.0,219.3 827.5,219.7 828.0,218.7 828.0,218.7 827.5,220.0 827.0,221.3 826.5,222.7 826.0,224.0 825.5,223.0 825.0,222.0 824.5,221.0 824.0,220.0 823.5,219.0 823.0,218.0 822.5,217.6 822.0,217.2 821.5,216.9 821.0,216.5 820.5,216.1 820.0,215.8 819.5,215.4 819.0,215.0 818.5,216.2 818.0,217.3 817.5,218.5 817.0,219.7 816.5,220.8 816.0,222.0 815.5,220.8ZM846.5,227.0 847.0,226.0 847.5,226.3 848.0,226.7 848.5,227.0 849.0,227.3 849.5,227.7 850.0,227.3 850.0,227.3 849.5,228.0 849.0,228.7 848.5,229.3 848.0,230.0 847.5,229.0 847.0,228.0 846.5,227.0ZM856.0,227.0 856.5,227.3 857.0,226.6 857.5,225.9 858.0,225.2 858.5,224.5 859.0,223.8 859.5,223.1 860.0,222.4 860.5,221.7 861.0,221.0 861.5,224.2 862.0,227.3 862.5,230.5 863.0,233.7 863.5,236.8 864.0,240.0 864.5,243.5 865.0,247.0 865.5,250.5 866.0,251.5 866.0,251.5 865.5,252.8 865.0,254.0 864.5,252.7 864.0,251.3 863.5,250.0 863.0,248.7 862.5,247.3 862.0,246.0 861.5,245.3 861.0,244.7 860.5,244.0 860.0,243.3 859.5,242.7 859.0,242.0 858.5,239.5 858.0,237.0 857.5,234.5 857.0,232.0 856.5,229.5 856.0,227.0ZM875.0,235.7 875.5,230.5 876.0,222.0 876.5,218.7 877.0,215.3 877.5,212.0 878.0,208.7 878.5,205.3 879.0,202.0 879.5,199.4 880.0,196.8 880.5,194.1 881.0,191.5 881.5,188.9 882.0,186.3 882.5,183.7 883.0,181.0 883.5,186.4 884.0,197.1 884.5,207.9 885.0,218.6 885.5,229.3 886.0,240.0 886.5,247.1 886.5,247.1 886.0,247.5 885.5,247.9 885.0,248.2 884.5,248.6 884.0,249.0 883.5,247.2 883.0,245.5 882.5,243.8 882.0,242.0 881.5,242.3 881.0,242.7 880.5,243.0 880.0,243.3 879.5,243.7 879.0,244.0 878.5,243.0 878.0,242.0 877.5,241.0 877.0,240.0 876.5,239.0 876.0,238.0 875.5,236.8 875.0,235.7ZM906.0,256.0 906.5,252.4 907.0,248.8 907.5,245.2 908.0,241.6 908.5,238.0 909.0,234.4 909.5,230.8 910.0,227.2 910.5,223.6 911.0,220.0 911.5,231.5 912.0,243.0 912.5,254.5 913.0,266.0 913.5,266.8 914.0,267.5 914.5,268.2 915.0,269.0 915.0,269.0 914.5,268.5 914.0,268.0 913.5,267.5 913.0,267.0 912.5,266.5 912.0,266.0 911.5,266.0 911.0,266.0 910.5,266.0 910.0,266.0 909.5,266.0 909.0,266.0 908.5,264.3 908.0,262.7 907.5,261.0 907.0,259.3 906.5,257.7 906.0,256.0ZM917.5,266.5 918.0,265.2 918.5,261.8 919.0,258.4 919.5,255.0 920.0,251.6 920.5,248.2 921.0,244.8 921.5,241.4 922.0,238.0 922.5,244.3 923.0,250.7 923.5,257.0 924.0,263.3 924.5,269.7 925.0,276.0 925.5,278.2 926.0,280.3 926.5,282.5 927.0,284.7 927.5,286.8 928.0,288.0 928.0,288.0 927.5,287.3 927.0,286.7 926.5,286.0 926.0,285.3 925.5,284.7 925.0,284.0 924.5,282.0 924.0,280.0 923.5,279.2 923.0,278.5 922.5,277.8 922.0,277.0 921.5,276.2 921.0,275.5 920.5,274.8 920.0,274.0 919.5,272.5 919.0,271.0 918.5,269.5 918.0,268.0 917.5,266.5ZM928.0,288.0 928.5,286.5 929.0,284.0 929.5,281.5 930.0,279.0 930.5,276.5 931.0,274.0 931.5,275.5 932.0,277.0 932.5,278.5 933.0,280.0 933.5,278.3 934.0,276.7 934.5,275.0 935.0,273.3 935.5,271.7 936.0,270.0 936.5,264.4 937.0,258.8 937.5,253.1 938.0,247.5 938.5,241.9 939.0,236.2 939.5,230.6 940.0,225.0 940.5,223.4 941.0,221.8 941.5,220.1 942.0,218.5 942.5,216.9 943.0,215.2 943.5,213.6 944.0,212.0 944.5,212.0 945.0,212.0 945.5,212.8 946.0,213.5 946.5,214.2 947.0,215.0 947.5,220.1 948.0,225.2 948.5,230.4 949.0,235.5 949.5,240.6 950.0,245.8 950.5,250.9 951.0,256.0 951.5,261.7 952.0,267.3 952.5,273.0 953.0,278.7 953.5,284.3 954.0,289.0 954.0,289.0 953.5,288.5 953.0,288.0 952.5,288.5 952.0,289.0 951.5,289.4 951.0,289.8 950.5,290.2 950.0,290.7 949.5,291.1 949.0,291.5 948.5,288.8 948.0,286.0 947.5,285.8 947.0,285.5 946.5,285.2 946.0,285.0 945.5,282.2 945.0,279.5 944.5,276.8 944.0,274.0 943.5,278.5 943.0,283.0 942.5,283.2 942.0,283.3 941.5,283.5 941.0,283.7 940.5,283.8 940.0,284.0 939.5,284.6 939.0,285.2 938.5,285.9 938.0,286.5 937.5,287.1 937.0,287.8 936.5,288.4 936.0,289.0 935.5,287.8 935.0,286.7 934.5,285.5 934.0,284.3 933.5,283.2 933.0,282.0 932.5,284.3 932.0,286.7 931.5,289.0 931.0,291.3 930.5,293.7 930.0,296.0 929.5,294.0 929.0,292.0 928.5,290.0 928.0,288.0ZM970.5,308.5 971.0,308.0 971.5,304.0 972.0,300.0 972.5,296.0 973.0,292.0 973.5,296.5 974.0,301.0 974.5,305.5 975.0,308.7 975.0,308.7 974.5,308.8 974.0,309.0 973.5,309.7 973.0,310.3 972.5,311.0 972.0,311.7 971.5,312.3 971.0,313.0 970.5,308.5ZM978.5,319.2 979.0,322.7 979.5,324.7 979.5,324.7 979.0,323.0 978.5,319.2ZM980.0,326.3 980.5,321.0 981.0,314.0 981.5,307.0 982.0,300.0 982.5,299.8 983.0,299.6 983.5,299.4 984.0,299.2 984.5,300.1 985.0,305.7 985.5,311.3 986.0,316.8 986.5,322.4 987.0,322.7 987.0,322.7 986.5,323.5 986.0,324.3 985.5,325.2 985.0,326.0 984.5,327.2 984.0,328.3 983.5,329.5 983.0,330.7 982.5,331.8 982.0,333.0 981.5,331.3 981.0,329.7 980.5,328.0 980.0,326.3ZM988.5,322.3 989.0,318.0 989.5,321.5 990.0,325.0 990.5,327.7 990.5,327.7 990.0,326.3 989.5,325.0 989.0,323.7 988.5,322.3ZM1000.0,322.0 1000.5,318.2 1001.0,314.4 1001.5,310.5 1002.0,306.7 1002.5,303.2 1003.0,300.0 1003.5,296.7 1004.0,293.5 1004.5,290.2 1005.0,287.0 1005.5,283.7 1006.0,280.5 1006.5,277.2 1007.0,279.3 1007.5,281.3 1008.0,283.4 1008.5,285.5 1009.0,287.5 1009.5,290.8 1010.0,298.6 1010.5,306.4 1011.0,314.3 1011.5,313.0 1011.5,313.0 1011.0,315.0 1010.5,317.0 1010.0,319.0 1009.5,317.8 1009.0,316.5 1008.5,315.2 1008.0,314.0 1007.5,315.5 1007.0,317.0 1006.5,318.5 1006.0,320.0 1005.5,319.3 1005.0,318.7 1004.5,318.0 1004.0,317.3 1003.5,316.7 1003.0,316.0 1002.5,317.0 1002.0,318.0 1001.5,319.0 1001.0,320.0 1000.5,321.0 1000.0,322.0ZM1012.5,313.0 1013.0,307.2 1013.5,299.0 1014.0,290.9 1014.5,288.2 1015.0,289.2 1015.5,290.2 1016.0,291.2 1016.5,292.2 1017.0,293.2 1017.5,294.1 1018.0,294.3 1018.5,294.6 1019.0,294.8 1019.5,295.1 1020.0,295.3 1020.5,295.6 1021.0,295.8 1021.5,296.1 1022.0,296.3 1022.5,296.6 1023.0,296.8 1023.5,297.1 1024.0,299.0 1024.5,303.5 1025.0,308.0 1025.5,312.5 1026.0,317.0 1026.5,321.5 1027.0,326.0 1027.5,330.5 1028.0,331.0 1028.0,331.0 1027.5,331.9 1027.0,332.8 1026.5,333.6 1026.0,334.5 1025.5,335.4 1025.0,336.2 1024.5,337.1 1024.0,338.0 1023.5,338.8 1023.0,339.5 1022.5,340.2 1022.0,341.0 1021.5,341.8 1021.0,342.5 1020.5,343.2 1020.0,344.0 1019.5,341.3 1019.0,338.7 1018.5,336.0 1018.0,333.3 1017.5,330.7 1017.0,328.0 1016.5,326.8 1016.0,325.5 1015.5,324.2 1015.0,323.0 1014.5,321.0 1014.0,319.0 1013.5,317.0 1013.0,315.0 1012.5,313.0ZM1029.0,328.3 1029.5,321.9 1030.0,311.7 1030.5,301.5 1031.0,291.2 1031.5,283.0 1032.0,282.8 1032.5,282.6 1033.0,282.5 1033.5,282.3 1034.0,282.2 1034.5,282.0 1035.0,281.8 1035.5,281.7 1036.0,281.5 1036.5,278.0 1037.0,274.5 1037.5,271.0 1038.0,267.4 1038.5,263.9 1039.0,260.4 1039.5,260.7 1040.0,263.6 1040.5,266.4 1041.0,269.2 1041.5,272.1 1042.0,274.9 1042.5,277.8 1043.0,280.6 1043.5,283.5 1044.0,286.3 1044.5,289.2 1045.0,292.0 1045.5,297.3 1046.0,302.6 1046.5,307.9 1047.0,313.2 1047.5,314.5 1047.5,314.5 1047.0,314.7 1046.5,314.8 1046.0,315.0 1045.5,317.8 1045.0,320.5 1044.5,323.2 1044.0,326.0 1043.5,325.5 1043.0,325.0 1042.5,324.5 1042.0,324.0 1041.5,323.5 1041.0,323.0 1040.5,324.2 1040.0,325.5 1039.5,326.8 1039.0,328.0 1038.5,329.2 1038.0,330.5 1037.5,331.8 1037.0,333.0 1036.5,331.7 1036.0,330.3 1035.5,329.0 1035.0,327.7 1034.5,326.3 1034.0,325.0 1033.5,324.7 1033.0,324.3 1032.5,324.0 1032.0,323.7 1031.5,323.3 1031.0,323.0 1030.5,324.3 1030.0,325.7 1029.5,327.0 1029.0,328.3Z" fill="#f5b9b9"/>
<path d="M99.0,280.0 99.5,281.2 100.0,274.0 100.5,277.7 101.0,281.3 101.5,285.0 102.0,288.7 102.5,291.0 102.5,291.0 102.0,292.7 101.5,294.3 101.0,296.0 100.5,292.0 100.0,288.0 99.5,284.0 99.0,280.0ZM104.5,286.3 105.0,283.7 105.5,280.6 106.0,287.3 106.0,287.3 105.5,287.0 105.0,286.7 104.5,286.3ZM135.5,290.6 136.0,288.0 136.5,290.4 136.5,290.4 136.0,290.5 135.5,290.6ZM140.0,294.0 140.5,291.5 141.0,289.0 141.5,286.5 142.0,284.0 142.5,283.5 143.0,283.0 143.5,282.5 144.0,282.0 144.5,285.8 145.0,289.5 145.5,293.2 146.0,297.0 146.5,299.0 147.0,293.8 147.5,288.7 148.0,283.5 148.5,278.3 149.0,273.2 149.5,268.0 150.0,273.2 150.5,281.0 151.0,288.8 151.5,296.6 152.0,304.4 152.5,305.5 152.5,305.5 152.0,306.0 151.5,306.5 151.0,307.0 150.5,307.5 150.0,308.0 149.5,307.0 149.0,306.0 148.5,305.0 148.0,304.0 147.5,303.0 147.0,302.0 146.5,301.0 146.0,300.0 145.5,299.8 145.0,299.5 144.5,299.2 144.0,299.0 143.5,298.8 143.0,298.5 142.5,298.2 142.0,298.0 141.5,297.0 141.0,296.0 140.5,295.0 140.0,294.0ZM206.5,282.2 207.0,284.4 207.5,286.7 208.0,288.9 208.5,291.1 209.0,293.3 209.5,295.6 210.0,293.6 210.5,290.7 211.0,287.8 211.5,284.8 212.0,281.9 212.5,278.9 213.0,276.0 213.5,281.5 214.0,287.0 214.5,289.0 214.5,289.0 214.0,288.7 213.5,288.4 213.0,288.1 212.5,289.0 212.0,290.7 211.5,292.4 211.0,294.1 210.5,295.8 210.0,297.5 209.5,296.7 209.0,294.3 208.5,291.9 208.0,289.5 207.5,287.0 207.0,284.6 206.5,282.2ZM215.5,289.6 216.0,286.7 216.5,281.0 217.0,275.3 217.5,269.7 218.0,264.0 218.5,268.0 219.0,272.0 219.5,276.0 220.0,280.0 220.5,284.0 221.0,288.0 221.5,290.5 221.5,290.5 221.0,292.8 220.5,294.5 220.0,294.0 219.5,293.5 219.0,293.0 218.5,292.5 218.0,292.0 217.5,291.5 217.0,291.0 216.5,290.5 216.0,290.0 215.5,289.6ZM253.5,279.0 254.0,277.9 254.5,275.2 255.0,272.6 255.5,269.9 256.0,267.3 256.5,264.6 257.0,262.0 257.5,262.2 258.0,262.5 258.5,262.8 259.0,263.0 259.5,267.7 260.0,270.0 260.0,270.0 259.5,271.8 259.0,273.5 258.5,275.2 258.0,277.0 257.5,278.8 257.0,280.5 256.5,282.2 256.0,284.0 255.5,283.0 255.0,282.0 254.5,281.0 254.0,280.0 253.5,279.0ZM287.5,267.6 288.0,262.0 288.5,258.5 289.0,255.0 289.5,251.5 290.0,248.0 290.5,244.5 291.0,241.0 291.5,237.5 292.0,234.0 292.5,234.7 293.0,235.3 293.5,236.0 294.0,236.7 294.5,237.3 295.0,238.0 295.5,263.5 295.5,263.5 295.0,262.0 294.5,260.5 294.0,259.0 293.5,257.5 293.0,256.0 292.5,254.5 292.0,253.0 291.5,254.9 291.0,256.8 290.5,258.6 290.0,260.5 289.5,262.4 289.0,264.2 288.5,266.1 288.0,268.0 287.5,267.6ZM344.0,246.0 344.5,246.4 345.0,243.8 345.5,241.2 346.0,238.7 346.5,236.1 347.0,238.0 347.5,240.9 348.0,243.9 348.5,246.9 349.0,249.8 349.5,250.8 349.5,250.8 349.0,250.5 348.5,250.2 348.0,250.0 347.5,249.5 347.0,249.0 346.5,248.5 346.0,248.0 345.5,247.5 345.0,247.0 344.5,246.5 344.0,246.0ZM352.5,251.8 353.0,250.7 353.5,248.5 354.0,246.2 354.5,244.0 355.0,247.1 355.5,250.2 356.0,250.0 356.0,250.0 355.5,250.2 355.0,250.5 354.5,250.8 354.0,251.0 353.5,251.2 353.0,251.5 352.5,251.8ZM400.5,222.2 401.0,221.0 401.5,221.0 402.0,221.0 402.5,221.0 403.0,221.0 403.5,221.0 404.0,221.0 404.5,219.8 405.0,218.7 405.5,217.5 406.0,216.4 406.5,215.2 407.0,219.5 407.5,219.2 407.5,219.2 407.0,222.4 406.5,225.6 406.0,228.8 405.5,232.0 405.0,235.2 404.5,238.4 404.0,237.2 403.5,235.0 403.0,232.7 402.5,230.5 402.0,228.4 401.5,226.3 401.0,224.2 400.5,222.2ZM482.0,190.3 482.5,186.7 483.0,183.0 483.5,179.3 484.0,179.1 484.5,179.0 485.0,178.8 485.5,178.6 486.0,178.5 486.5,176.7 487.0,173.9 487.5,171.0 488.0,168.2 488.5,165.4 489.0,164.0 489.5,168.5 490.0,173.0 490.5,177.5 491.0,179.2 491.0,179.2 490.5,179.8 490.0,180.4 489.5,181.0 489.0,181.7 488.5,182.3 488.0,182.9 487.5,183.5 487.0,184.2 486.5,184.8 486.0,185.4 485.5,186.0 485.0,186.6 484.5,187.3 484.0,187.9 483.5,188.5 483.0,189.1 482.5,189.7 482.0,190.3ZM515.0,161.0 515.5,152.9 516.0,142.6 516.5,134.9 517.0,137.9 517.5,141.0 518.0,144.0 518.5,147.0 519.0,150.1 519.5,153.1 520.0,156.1 520.5,159.2 521.0,162.0 521.0,162.0 520.5,164.0 520.0,166.0 519.5,167.2 519.0,168.4 518.5,169.2 518.0,168.0 517.5,166.8 517.0,165.7 516.5,164.5 516.0,163.3 515.5,162.2 515.0,161.0ZM524.0,150.0 524.5,148.0 525.0,148.0 525.0,148.0 524.5,149.0 524.0,150.0ZM541.5,142.3 542.0,141.6 542.5,140.7 543.0,139.8 543.5,138.9 544.0,138.0 544.5,138.3 545.0,138.7 545.5,139.0 546.0,139.3 546.5,139.7 547.0,140.0 547.5,138.8 548.0,137.7 548.5,136.5 549.0,135.3 549.5,134.2 550.0,133.0 550.5,136.8 551.0,140.0 551.0,140.0 550.5,142.3 550.0,144.7 549.5,147.0 549.0,149.3 548.5,151.7 548.0,154.0 547.5,155.3 547.0,156.7 546.5,158.0 546.0,159.3 545.5,160.7 545.0,162.0 544.5,159.0 544.0,156.0 543.5,153.0 543.0,150.0 542.5,147.0 542.0,144.0 541.5,142.3ZM552.5,142.2 553.0,138.3 553.5,133.5 554.0,128.7 554.5,123.8 555.0,119.0 555.5,125.9 556.0,132.8 556.5,138.0 556.5,138.0 556.0,140.7 555.5,143.3 555.0,146.0 554.5,145.2 554.0,144.5 553.5,143.8 553.0,143.0 552.5,142.2ZM563.5,127.7 564.0,124.0 564.5,122.9 565.0,121.7 565.5,120.6 566.0,119.5 566.5,118.3 567.0,117.2 567.5,116.0 568.0,114.9 568.5,113.8 569.0,113.1 569.5,112.3 570.0,111.5 570.5,110.7 571.0,109.9 571.5,109.2 572.0,110.0 572.5,111.2 573.0,112.5 573.5,113.7 574.0,115.0 574.5,129.8 575.0,144.5 575.5,149.5 575.5,149.5 575.0,148.0 574.5,146.5 574.0,145.0 573.5,143.5 573.0,142.0 572.5,143.0 572.0,144.0 571.5,145.0 571.0,146.0 570.5,147.0 570.0,148.0 569.5,146.3 569.0,144.7 568.5,143.0 568.0,141.3 567.5,139.7 567.0,138.0 566.5,136.3 566.0,134.7 565.5,133.0 565.0,131.3 564.5,129.7 564.0,128.0 563.5,127.7ZM672.5,134.5 673.0,130.4 673.5,126.2 674.0,122.0 674.5,121.2 675.0,120.5 675.5,119.8 676.0,119.0 676.5,118.2 677.0,117.5 677.5,116.8 678.0,116.0 678.5,118.8 679.0,121.7 679.5,124.5 680.0,125.3 680.0,125.3 679.5,125.0 679.0,124.7 678.5,124.3 678.0,124.0 677.5,124.5 677.0,125.0 676.5,125.5 676.0,126.0 675.5,126.5 675.0,127.0 674.5,127.5 674.0,128.0 673.5,130.2 673.0,132.3 672.5,134.5ZM682.0,123.6 682.5,120.5 683.0,116.3 683.5,112.2 684.0,108.0 684.5,107.2 685.0,106.4 685.5,105.6 686.0,104.8 686.5,104.0 687.0,103.2 687.5,102.4 688.0,101.6 688.5,101.7 689.0,105.2 689.5,108.6 690.0,112.1 690.5,115.6 691.0,119.1 691.5,122.5 692.0,126.0 692.5,126.0 693.0,126.0 693.5,126.0 694.0,126.0 694.5,126.0 695.0,126.0 695.5,122.7 696.0,119.3 696.5,116.0 697.0,112.7 697.5,109.3 698.0,106.0 698.5,106.7 699.0,107.3 699.5,108.0 700.0,108.7 700.5,109.3 701.0,110.0 701.5,115.3 702.0,120.7 702.5,126.0 703.0,131.3 703.5,136.0 703.5,136.0 703.0,140.0 702.5,138.7 702.0,137.3 701.5,136.0 701.0,134.7 700.5,133.3 700.0,132.0 699.5,132.5 699.0,133.0 698.5,133.5 698.0,134.0 697.5,134.5 697.0,135.0 696.5,135.5 696.0,136.0 695.5,136.7 695.0,137.3 694.5,138.0 694.0,138.7 693.5,139.3 693.0,140.0 692.5,140.7 692.0,141.3 691.5,142.0 691.0,142.7 690.5,143.3 690.0,144.0 689.5,140.2 689.0,136.5 688.5,132.8 688.0,129.0 687.5,125.2 687.0,121.5 686.5,117.8 686.0,114.0 685.5,115.2 685.0,116.4 684.5,117.6 684.0,118.8 683.5,120.0 683.0,121.2 682.5,122.4 682.0,123.6ZM723.0,140.5 723.5,140.0 724.0,134.0 724.5,128.0 725.0,122.0 725.5,130.0 726.0,138.0 726.5,139.0 726.5,139.0 726.0,140.0 725.5,141.0 725.0,142.0 724.5,143.0 724.0,144.0 723.5,142.2 723.0,140.5ZM757.0,140.0 757.5,140.1 758.0,140.8 758.5,143.0 758.5,143.0 758.0,142.0 757.5,141.0 757.0,140.0ZM788.5,161.0 789.0,160.6 789.5,155.9 790.0,151.2 790.5,146.5 791.0,141.8 791.5,137.1 792.0,132.4 792.5,127.7 793.0,123.0 793.5,127.2 794.0,131.5 794.5,135.8 795.0,140.0 795.5,166.0 796.0,186.0 796.0,186.0 795.5,183.8 795.0,181.5 794.5,179.2 794.0,177.0 793.5,174.8 793.0,172.5 792.5,170.2 792.0,168.0 791.5,167.0 791.0,166.0 790.5,165.0 790.0,164.0 789.5,163.0 789.0,162.0 788.5,161.0ZM879.0,200.9 879.5,199.4 880.0,196.8 880.5,194.1 881.0,191.5 881.5,188.9 882.0,186.3 882.5,183.7 883.0,181.0 883.5,186.4 884.0,197.1 884.5,205.4 884.5,205.4 884.0,204.1 883.5,202.7 883.0,201.4 882.5,201.1 882.0,202.5 881.5,203.8 881.0,205.1 880.5,206.5 880.0,207.8 879.5,204.4 879.0,200.9ZM909.0,231.9 909.5,230.8 910.0,227.2 910.5,223.6 911.0,220.0 911.5,231.5 912.0,240.4 912.0,240.4 911.5,240.2 911.0,238.5 910.5,236.9 910.0,235.2 909.5,233.5 909.0,231.9ZM920.0,249.7 920.5,248.2 921.0,244.8 921.5,241.4 922.0,238.0 922.5,244.3 923.0,244.3 923.0,244.3 922.5,245.7 922.0,247.0 921.5,248.3 921.0,249.7 920.5,251.0 920.0,249.7ZM936.5,261.0 937.0,258.8 937.5,253.1 938.0,247.5 938.5,241.9 939.0,236.2 939.5,230.6 940.0,225.0 940.5,223.4 941.0,221.8 941.5,220.1 942.0,218.5 942.5,216.9 943.0,215.2 943.5,213.6 944.0,212.0 944.5,212.0 945.0,212.0 945.5,212.8 946.0,213.5 946.5,214.2 947.0,215.0 947.5,220.1 948.0,225.2 948.5,230.4 949.0,235.5 949.5,240.6 950.0,245.8 950.5,248.8 950.5,248.8 950.0,249.0 949.5,249.1 949.0,248.4 948.5,247.1 948.0,245.7 947.5,244.4 947.0,243.1 946.5,242.4 946.0,244.4 945.5,246.4 945.0,248.4 944.5,250.4 944.0,252.4 943.5,252.0 943.0,251.0 942.5,250.0 942.0,249.0 941.5,248.0 941.0,248.1 940.5,249.9 940.0,251.6 939.5,253.4 939.0,255.1 938.5,256.9 938.0,258.6 937.5,260.1 937.0,260.6 936.5,261.0ZM1005.5,283.0 1006.0,280.5 1006.5,277.2 1007.0,279.3 1007.5,279.0 1007.5,279.0 1007.0,280.0 1006.5,281.0 1006.0,282.0 1005.5,283.0ZM1013.5,290.2 1014.0,290.9 1014.5,288.2 1015.0,289.2 1015.5,290.2 1016.0,291.2 1016.5,292.2 1017.0,293.2 1017.5,294.1 1018.0,294.3 1018.5,294.6 1019.0,294.8 1019.5,295.1 1020.0,295.3 1020.5,295.6 1021.0,295.8 1021.5,296.0 1021.5,296.0 1021.0,296.0 1020.5,296.0 1020.0,296.0 1019.5,295.8 1019.0,295.5 1018.5,295.2 1018.0,295.0 1017.5,294.8 1017.0,294.5 1016.5,294.2 1016.0,294.0 1015.5,293.2 1015.0,292.5 1014.5,291.8 1014.0,291.0 1013.5,290.2ZM1031.0,285.5 1031.5,283.0 1032.0,282.8 1032.5,282.6 1033.0,282.5 1033.5,282.3 1034.0,282.2 1034.5,282.0 1035.0,281.8 1035.5,281.7 1036.0,281.5 1036.5,278.0 1037.0,274.5 1037.5,271.0 1038.0,267.4 1038.5,263.9 1039.0,260.4 1039.5,260.7 1040.0,263.6 1040.5,266.4 1041.0,269.2 1041.5,272.1 1042.0,274.9 1042.5,277.8 1043.0,280.6 1043.5,283.5 1044.0,284.0 1044.0,284.0 1043.5,285.0 1043.0,286.0 1042.5,287.0 1042.0,288.0 1041.5,289.0 1041.0,290.0 1040.5,291.0 1040.0,292.0 1039.5,291.8 1039.0,291.5 1038.5,291.2 1038.0,291.0 1037.5,290.8 1037.0,290.5 1036.5,290.2 1036.0,290.0 1035.5,289.2 1035.0,288.5 1034.5,287.8 1034.0,287.0 1033.5,286.2 1033.0,285.5 1032.5,284.8 1032.0,284.0 1031.5,284.8 1031.0,285.5Z" fill="#f08282"/>
<path d="M78.5,323.0 79.0,323.0 79.5,322.8 80.0,322.5 80.5,322.2 81.0,322.0 81.5,323.7 82.0,325.3 82.5,327.0 83.0,328.7 83.5,330.3 84.0,332.0 84.0,332.0 83.5,335.8 83.0,343.7 82.5,351.5 82.0,359.3 81.5,367.2 81.0,375.0 80.5,363.2 80.0,351.5 79.5,339.8 79.0,328.0 78.5,328.0ZM92.5,331.7 93.0,333.0 93.5,331.3 94.0,329.7 94.5,328.0 95.0,326.3 95.5,324.7 96.0,323.0 96.5,323.5 97.0,324.0 97.0,324.0 96.5,324.4 96.0,331.6 95.5,338.8 95.0,346.0 94.5,343.0 94.0,340.0 93.5,337.0 93.0,334.0 92.5,331.7ZM109.0,348.6 109.5,347.5 110.0,346.3 110.5,345.2 111.0,344.0 111.5,343.3 112.0,342.7 112.5,342.0 113.0,341.3 113.5,340.7 114.0,340.0 114.5,339.0 115.0,338.0 115.5,337.0 116.0,336.0 116.5,335.0 117.0,334.0 117.5,331.9 118.0,329.8 118.5,327.7 119.0,325.5 119.5,323.4 120.0,324.4 120.5,326.2 121.0,327.9 121.5,329.7 122.0,331.5 122.5,333.2 123.0,335.0 123.5,334.2 124.0,333.3 124.5,332.5 125.0,331.7 125.5,330.8 126.0,330.0 126.5,329.2 127.0,328.5 127.5,327.8 128.0,327.0 128.5,328.7 129.0,330.3 129.5,332.0 130.0,333.7 130.0,333.7 129.5,337.5 129.0,347.0 128.5,356.5 128.0,366.0 127.5,367.6 127.0,369.2 126.5,370.8 126.0,372.3 125.5,373.9 125.0,375.5 124.5,377.1 124.0,378.7 123.5,380.2 123.0,381.8 122.5,383.4 122.0,385.0 121.5,376.7 121.0,368.3 120.5,360.0 120.0,351.7 119.5,343.3 119.0,335.0 118.5,340.2 118.0,345.3 117.5,350.5 117.0,355.7 116.5,360.8 116.0,366.0 115.5,365.2 115.0,364.3 114.5,363.5 114.0,362.7 113.5,362.3 113.0,363.6 112.5,365.0 112.0,366.3 111.5,367.7 111.0,369.0 110.5,362.6 110.0,356.1 109.5,349.7 109.0,348.6ZM160.5,326.0 161.0,323.0 161.5,323.5 161.5,323.5 161.0,324.1 160.5,326.0ZM171.0,339.0 171.5,336.2 172.0,333.3 172.5,330.5 172.5,330.5 172.0,339.0 171.5,341.7 171.0,339.0ZM175.5,324.6 176.0,325.5 176.5,326.4 177.0,327.2 177.5,328.1 178.0,329.0 178.5,329.7 179.0,330.3 179.5,331.0 180.0,331.7 180.5,332.3 181.0,333.0 181.5,333.8 182.0,334.7 182.5,335.5 183.0,336.3 183.5,337.2 184.0,338.0 184.5,337.8 185.0,337.5 185.5,337.2 185.5,337.2 185.0,338.0 184.5,339.5 184.0,341.0 183.5,342.5 183.0,344.0 182.5,345.5 182.0,347.0 181.5,348.5 181.0,350.0 180.5,351.5 180.0,353.0 179.5,349.9 179.0,346.8 178.5,343.6 178.0,340.5 177.5,337.4 177.0,334.2 176.5,331.1 176.0,328.0 175.5,324.6ZM238.0,308.8 238.5,305.9 239.0,303.0 239.5,303.2 240.0,303.3 240.5,303.5 241.0,303.7 241.5,303.8 242.0,304.0 242.5,305.0 243.0,306.0 243.5,307.0 244.0,308.0 244.5,309.0 245.0,310.0 245.5,310.2 245.5,310.2 245.0,312.0 244.5,321.8 244.0,331.5 243.5,341.2 243.0,351.0 242.5,346.3 242.0,341.6 241.5,336.9 241.0,332.2 240.5,327.5 240.0,322.8 239.5,318.1 239.0,313.4 238.5,308.7 238.0,308.8ZM271.0,300.0 271.5,300.4 272.0,300.8 272.5,301.2 273.0,301.6 273.5,302.0 274.0,302.4 274.5,302.8 275.0,303.2 275.5,303.6 276.0,304.0 276.5,301.8 277.0,299.5 277.5,297.2 278.0,295.0 278.5,292.8 279.0,290.5 279.5,288.2 280.0,286.0 280.5,286.4 281.0,286.8 281.5,287.1 282.0,287.5 282.5,287.9 283.0,288.2 283.5,288.6 284.0,289.0 284.5,289.2 285.0,289.5 285.5,289.8 286.0,290.0 286.5,290.2 287.0,290.4 287.0,290.4 286.5,290.5 286.0,300.0 285.5,304.2 285.0,308.3 284.5,312.5 284.0,316.7 283.5,320.8 283.0,325.0 282.5,329.2 282.0,333.3 281.5,337.5 281.0,341.7 280.5,345.8 280.0,350.0 279.5,348.8 279.0,347.5 278.5,346.2 278.0,345.0 277.5,343.8 277.0,342.5 276.5,341.2 276.0,340.0 275.5,336.0 275.0,332.0 274.5,328.0 274.0,324.0 273.5,320.0 273.0,316.0 272.5,312.0 272.0,308.0 271.5,304.0 271.0,300.0ZM299.5,302.0 300.0,298.0 300.5,299.0 301.0,300.0 301.5,301.0 302.0,302.0 302.5,300.0 303.0,298.0 303.5,296.0 304.0,294.0 304.5,292.0 305.0,290.0 305.5,288.0 306.0,286.0 306.5,287.8 307.0,289.7 307.5,291.5 308.0,293.3 308.5,295.2 309.0,297.0 309.0,297.0 308.5,297.0 308.0,298.0 307.5,298.0 307.0,298.0 306.5,298.0 306.0,298.0 305.5,298.0 305.0,298.0 304.5,302.2 304.0,306.5 303.5,310.8 303.0,315.0 302.5,313.1 302.0,311.2 301.5,309.2 301.0,307.3 300.5,305.4 300.0,303.5 299.5,302.0ZM309.5,295.2 310.0,293.3 310.5,291.5 311.0,289.7 311.5,287.8 312.0,286.0 312.5,285.5 313.0,285.0 313.5,284.5 314.0,284.0 314.5,282.0 315.0,280.0 315.5,278.0 316.0,276.0 316.5,274.0 317.0,272.0 317.5,274.3 318.0,276.7 318.5,279.0 319.0,281.3 319.0,281.3 318.5,279.6 318.0,282.1 317.5,284.6 317.0,287.2 316.5,289.7 316.0,292.3 315.5,294.3 315.0,294.3 314.5,294.2 314.0,294.2 313.5,294.2 313.0,294.2 312.5,294.1 312.0,294.1 311.5,294.1 311.0,294.1 310.5,294.0 310.0,294.0 309.5,295.2ZM359.0,278.0 359.5,273.0 360.0,268.0 360.5,268.0 361.0,268.0 361.5,268.0 362.0,268.0 362.5,268.0 363.0,268.0 363.5,267.5 364.0,267.0 364.5,266.5 365.0,266.0 365.5,266.2 366.0,266.3 366.5,266.5 367.0,266.7 367.5,266.8 368.0,267.0 368.5,266.8 369.0,266.7 369.5,266.5 370.0,266.3 370.5,266.2 371.0,266.0 371.5,267.0 372.0,268.0 372.5,270.0 373.0,272.0 373.5,273.8 374.0,275.5 374.5,277.2 375.0,279.0 375.5,277.8 376.0,276.7 376.5,275.5 377.0,274.3 377.5,273.2 378.0,272.0 378.5,271.0 379.0,270.0 379.5,268.2 380.0,266.3 380.5,264.5 381.0,262.7 381.5,260.8 382.0,259.0 382.5,259.5 383.0,260.0 383.5,260.5 384.0,261.0 384.5,261.0 385.0,261.0 385.5,259.5 386.0,258.0 386.5,256.5 387.0,255.0 387.5,253.5 388.0,252.0 388.5,251.6 388.5,251.6 388.0,253.0 387.5,259.2 387.0,265.5 386.5,271.7 386.0,278.0 385.5,278.9 385.0,279.8 384.5,280.6 384.0,281.5 383.5,282.4 383.0,283.2 382.5,284.1 382.0,285.0 381.5,284.2 381.0,283.3 380.5,282.5 380.0,281.7 379.5,280.8 379.0,280.0 378.5,285.8 378.0,291.5 377.5,297.2 377.0,303.0 376.5,302.2 376.0,301.5 375.5,300.8 375.0,300.0 374.5,294.5 374.0,289.0 373.5,283.5 373.0,278.0 372.5,282.5 372.0,287.0 371.5,291.5 371.0,296.0 370.5,297.5 370.0,299.0 369.5,300.5 369.0,302.0 368.5,302.2 368.0,302.3 367.5,302.5 367.0,302.7 366.5,302.8 366.0,303.0 365.5,302.1 365.0,301.2 364.5,300.2 364.0,299.3 363.5,298.4 363.0,297.2 362.5,293.9 362.0,290.6 361.5,287.2 361.0,283.9 360.5,280.6 360.0,277.3 359.5,273.9 359.0,278.0ZM391.0,249.6 391.5,249.2 392.0,248.8 392.5,248.4 393.0,248.0 393.5,251.0 394.0,254.0 394.5,257.0 395.0,260.0 395.5,263.0 396.0,266.0 396.5,266.5 397.0,267.0 397.5,267.5 397.5,267.5 397.0,274.0 396.5,272.0 396.0,270.0 395.5,271.0 395.0,272.0 394.5,269.3 394.0,266.7 393.5,264.0 393.0,261.3 392.5,258.7 392.0,256.0 391.5,249.8 391.0,249.6ZM416.0,255.0 416.5,253.2 417.0,251.5 417.5,249.8 418.0,248.0 418.5,247.7 419.0,247.3 419.5,247.0 420.0,246.7 420.5,246.3 421.0,246.0 421.5,243.3 422.0,240.7 422.5,238.0 423.0,235.3 423.5,232.7 424.0,230.0 424.5,229.6 425.0,229.2 425.5,228.8 426.0,228.3 426.5,228.3 427.0,229.6 427.5,231.0 428.0,232.3 428.5,233.7 429.0,235.0 429.5,234.8 430.0,234.7 430.5,234.5 431.0,234.3 431.5,234.2 432.0,234.0 432.5,235.0 433.0,236.0 433.5,237.0 434.0,238.0 434.5,239.0 435.0,240.0 435.5,240.3 436.0,240.6 436.5,240.9 437.0,241.2 437.5,241.5 438.0,241.8 438.5,242.3 439.0,243.7 439.5,245.1 440.0,246.4 440.5,247.8 441.0,249.2 441.5,250.6 442.0,252.0 442.5,253.3 443.0,254.7 443.5,256.0 443.5,256.0 443.0,255.0 442.5,254.5 442.0,254.0 441.5,252.7 441.0,251.3 440.5,250.0 440.0,248.7 439.5,247.3 439.0,246.0 438.5,249.0 438.0,252.0 437.5,255.0 437.0,258.0 436.5,261.0 436.0,264.0 435.5,262.0 435.0,260.0 434.5,258.0 434.0,256.0 433.5,258.3 433.0,260.7 432.5,263.0 432.0,265.3 431.5,267.7 431.0,270.0 430.5,267.0 430.0,264.0 429.5,271.0 429.0,278.0 428.5,276.0 428.0,274.0 427.5,272.0 427.0,270.0 426.5,270.5 426.0,271.0 425.5,271.5 425.0,272.0 424.5,269.0 424.0,266.0 423.5,274.0 423.0,282.0 422.5,289.2 422.0,296.4 421.5,303.6 421.0,298.1 420.5,289.6 420.0,281.0 419.5,279.8 419.0,278.5 418.5,277.2 418.0,276.0 417.5,269.5 417.0,263.0 416.5,256.5 416.0,255.0ZM456.5,236.5 457.0,235.0 457.5,233.5 458.0,232.0 458.5,230.5 459.0,229.0 459.5,227.5 460.0,226.0 460.5,224.5 461.0,223.0 461.5,224.2 462.0,225.3 462.5,226.5 463.0,227.7 463.5,228.8 464.0,230.0 464.5,230.8 465.0,231.7 465.5,232.5 466.0,233.3 466.5,234.2 467.0,235.0 467.5,234.2 468.0,233.3 468.5,232.5 469.0,231.7 469.5,230.8 470.0,230.0 470.5,230.8 471.0,231.7 471.5,232.5 472.0,233.3 472.5,234.2 473.0,235.0 473.0,235.0 472.5,234.7 472.0,236.0 471.5,238.0 471.0,240.0 470.5,242.0 470.0,244.0 469.5,245.2 469.0,246.5 468.5,247.8 468.0,249.0 467.5,250.2 467.0,251.5 466.5,252.8 466.0,254.0 465.5,253.8 465.0,253.5 464.5,253.2 464.0,253.0 463.5,252.8 463.0,252.5 462.5,252.2 462.0,252.0 461.5,250.5 461.0,249.0 460.5,247.5 460.0,246.0 459.5,244.5 459.0,243.0 458.5,241.5 458.0,240.0 457.5,238.5 457.0,237.0 456.5,236.5ZM474.5,229.5 475.0,227.7 475.5,225.8 476.0,224.0 476.5,223.9 477.0,223.8 477.0,223.8 476.5,224.0 476.0,225.3 475.5,226.7 475.0,228.0 474.5,229.5ZM493.0,208.3 493.5,205.2 494.0,202.0 494.5,204.3 495.0,206.7 495.5,209.0 496.0,211.3 496.5,213.7 497.0,216.0 497.5,216.0 498.0,216.0 498.5,216.0 499.0,216.0 499.5,216.0 500.0,216.0 500.0,216.0 499.5,219.5 499.0,223.0 498.5,226.5 498.0,230.0 497.5,233.5 497.0,237.0 496.5,240.5 496.0,244.0 495.5,237.6 495.0,231.1 494.5,224.7 494.0,218.3 493.5,211.8 493.0,208.3ZM500.0,216.0 500.5,214.5 501.0,213.0 501.5,211.5 502.0,210.0 502.5,208.5 503.0,207.0 503.5,205.5 504.0,204.0 504.5,201.8 505.0,199.7 505.0,199.7 504.5,202.9 504.0,210.0 503.5,210.8 503.0,211.5 502.5,212.2 502.0,213.0 501.5,213.8 501.0,214.5 500.5,215.2 500.0,216.0ZM507.0,191.0 507.5,190.9 508.0,190.8 508.5,190.6 509.0,190.5 509.5,190.4 510.0,190.2 510.5,190.1 511.0,190.0 511.5,192.3 512.0,194.7 512.5,197.0 513.0,199.3 513.0,199.3 512.5,199.5 512.0,204.7 511.5,209.8 511.0,215.0 510.5,210.0 510.0,205.0 509.5,200.0 509.0,195.0 508.5,193.9 508.0,192.8 507.5,191.6 507.0,191.0ZM588.0,188.0 588.5,187.0 589.0,186.0 589.5,185.8 590.0,185.7 590.5,185.5 591.0,185.3 591.5,185.2 592.0,185.0 592.5,184.5 593.0,184.0 593.5,181.2 594.0,178.5 594.5,175.8 595.0,173.0 595.5,169.0 596.0,165.0 596.5,165.2 597.0,165.3 597.0,165.3 596.5,169.0 596.0,173.3 595.5,177.7 595.0,182.0 594.5,187.8 594.0,193.5 593.5,199.2 593.0,205.0 592.5,205.0 592.0,205.0 591.5,205.0 591.0,205.0 590.5,205.0 590.0,205.0 589.5,200.2 589.0,195.5 588.5,190.8 588.0,188.0ZM604.0,169.3 604.5,171.7 605.0,174.0 605.5,173.7 606.0,173.3 606.5,173.0 607.0,172.7 607.0,172.7 606.5,174.0 606.0,176.0 605.5,178.0 605.0,180.0 604.5,174.0 604.0,169.3ZM611.5,176.0 612.0,173.0 612.5,170.0 613.0,167.0 613.5,167.5 613.5,167.5 613.0,167.5 612.5,172.2 612.0,177.0 611.5,176.0ZM619.5,164.8 620.0,162.5 620.5,160.2 621.0,158.0 621.5,158.2 622.0,158.5 622.5,158.8 623.0,159.0 623.5,159.2 624.0,159.5 624.5,159.8 625.0,160.0 625.5,159.2 626.0,158.5 626.5,157.8 627.0,157.0 627.5,156.2 628.0,155.5 628.5,154.8 629.0,154.0 629.5,156.0 630.0,158.0 630.5,160.0 631.0,162.0 631.5,164.0 632.0,166.0 632.5,165.7 633.0,165.3 633.5,165.0 634.0,164.7 634.5,164.3 635.0,164.0 635.5,164.7 636.0,165.3 636.5,166.0 637.0,166.7 637.5,167.3 638.0,168.0 638.5,169.0 639.0,170.0 639.5,171.0 640.0,172.0 640.5,173.0 641.0,174.0 641.5,173.0 642.0,172.0 642.5,171.0 643.0,170.0 643.5,169.0 644.0,168.0 644.5,167.0 645.0,166.0 645.5,166.5 646.0,167.0 646.5,167.5 647.0,168.0 647.5,168.5 648.0,169.0 648.5,169.5 649.0,170.0 649.5,171.0 650.0,172.0 650.5,173.0 651.0,174.0 651.5,175.0 652.0,176.0 652.5,177.0 653.0,178.0 653.5,175.3 654.0,172.7 654.5,170.0 655.0,167.3 655.5,164.7 656.0,162.0 656.5,164.0 657.0,166.0 657.5,168.0 658.0,170.0 658.5,169.7 659.0,169.3 659.5,169.0 660.0,168.7 660.5,168.3 661.0,168.0 661.5,169.3 662.0,170.7 662.5,172.0 663.0,173.3 663.5,174.7 664.0,176.0 664.5,174.6 665.0,173.2 665.0,173.2 664.5,175.5 664.0,178.0 663.5,180.5 663.0,183.0 662.5,183.1 662.0,183.2 661.5,183.4 661.0,183.5 660.5,183.6 660.0,183.8 659.5,183.9 659.0,184.0 658.5,184.7 658.0,185.3 657.5,186.0 657.0,186.7 656.5,187.3 656.0,188.0 655.5,188.5 655.0,189.0 654.5,189.5 654.0,190.0 653.5,191.0 653.0,192.0 652.5,193.0 652.0,194.0 651.5,195.0 651.0,196.0 650.5,197.5 650.0,199.0 649.5,200.5 649.0,202.0 648.5,203.5 648.0,205.0 647.5,201.7 647.0,198.3 646.5,195.0 646.0,191.7 645.5,188.3 645.0,185.0 644.5,186.8 644.0,188.5 643.5,190.2 643.0,192.0 642.5,193.0 642.0,194.0 641.5,195.0 641.0,196.0 640.5,197.0 640.0,198.0 639.5,200.5 639.0,203.0 638.5,205.5 638.0,208.0 637.5,210.5 637.0,213.0 636.5,210.8 636.0,208.7 635.5,206.5 635.0,204.3 634.5,202.2 634.0,200.0 633.5,197.0 633.0,194.0 632.5,191.0 632.0,188.0 631.5,185.0 631.0,182.0 630.5,186.0 630.0,190.0 629.5,194.0 629.0,198.0 628.5,196.3 628.0,194.7 627.5,193.0 627.0,191.3 626.5,189.7 626.0,188.0 625.5,186.3 625.0,184.7 624.5,183.0 624.0,181.3 623.5,179.7 623.0,178.0 622.5,176.3 622.0,174.7 621.5,173.0 621.0,171.3 620.5,169.7 620.0,168.0 619.5,164.8ZM705.0,170.0 705.5,171.5 706.0,173.0 706.5,174.5 707.0,176.0 707.5,177.5 708.0,179.0 708.5,180.5 709.0,182.0 709.5,180.5 710.0,179.0 710.5,177.5 711.0,176.0 711.5,174.5 712.0,173.0 712.5,171.5 713.0,170.0 713.5,170.2 714.0,170.4 714.5,170.6 715.0,170.8 715.5,171.1 716.0,171.3 716.5,171.6 717.0,171.8 717.5,172.1 718.0,172.3 718.5,173.4 719.0,174.5 719.5,175.6 720.0,176.7 720.0,176.7 719.5,180.0 719.0,183.3 718.5,186.7 718.0,190.0 717.5,192.0 717.0,194.0 716.5,196.0 716.0,198.0 715.5,200.0 715.0,202.0 714.5,204.0 714.0,206.0 713.5,204.7 713.0,203.3 712.5,202.0 712.0,200.7 711.5,199.3 711.0,198.0 710.5,196.0 710.0,194.0 709.5,192.0 709.0,190.0 708.5,188.0 708.0,186.0 707.5,186.0 707.0,186.0 706.5,186.0 706.0,186.0 705.5,178.0 705.0,170.0ZM730.5,179.4 731.0,177.5 731.5,173.8 732.0,170.0 732.5,166.3 733.0,162.5 733.5,165.2 734.0,168.0 734.5,170.7 735.0,173.4 735.5,176.3 736.0,179.2 736.5,182.1 737.0,185.1 737.5,188.0 737.5,188.0 737.0,190.5 736.5,201.3 736.0,212.0 735.5,206.0 735.0,200.0 734.5,194.0 734.0,192.2 733.5,190.3 733.0,188.5 732.5,186.7 732.0,184.8 731.5,183.0 731.0,181.2 730.5,179.4ZM740.0,190.5 740.5,189.6 741.0,188.7 741.5,187.9 742.0,187.0 742.5,186.1 743.0,185.3 743.5,184.4 744.0,183.5 744.5,182.6 745.0,181.7 745.5,180.8 746.0,179.9 746.5,179.0 747.0,179.8 747.5,180.6 748.0,181.4 748.5,182.2 749.0,183.1 749.5,183.9 750.0,184.7 750.5,185.1 751.0,185.3 751.5,185.5 752.0,185.7 752.5,185.9 753.0,186.1 753.0,186.1 752.5,187.0 752.0,190.9 751.5,193.2 751.0,193.1 750.5,193.0 750.0,193.0 749.5,192.9 749.0,192.8 748.5,192.8 748.0,192.7 747.5,192.6 747.0,192.6 746.5,192.5 746.0,197.2 745.5,202.0 745.0,206.8 744.5,211.5 744.0,216.2 743.5,221.0 743.0,216.0 742.5,211.0 742.0,206.0 741.5,201.0 741.0,196.0 740.5,191.0 740.0,190.5ZM761.5,195.4 762.0,194.4 762.5,193.4 763.0,192.4 763.5,191.4 764.0,190.0 764.5,188.4 765.0,186.8 765.5,185.1 766.0,183.5 766.5,184.2 767.0,184.9 767.5,185.5 768.0,186.2 768.5,186.2 769.0,185.7 769.5,185.2 770.0,184.7 770.5,184.2 771.0,183.7 771.5,183.9 772.0,184.4 772.5,185.0 773.0,185.6 773.5,186.2 774.0,186.8 774.5,187.4 775.0,188.0 775.5,189.5 776.0,191.0 776.5,192.5 777.0,194.0 777.5,195.5 777.5,195.5 777.0,195.1 776.5,195.4 776.0,195.6 775.5,195.9 775.0,196.2 774.5,196.5 774.0,196.7 773.5,197.0 773.0,197.3 772.5,197.7 772.0,198.0 771.5,202.6 771.0,207.2 770.5,211.9 770.0,216.5 769.5,221.1 769.0,225.8 768.5,230.4 768.0,235.0 767.5,231.8 767.0,228.5 766.5,225.2 766.0,222.0 765.5,218.8 765.0,215.5 764.5,212.2 764.0,209.0 763.5,205.8 763.0,202.5 762.5,199.2 762.0,196.0 761.5,195.4ZM778.5,194.5 779.0,192.0 779.5,191.0 780.0,190.0 780.5,192.0 781.0,194.0 781.0,194.0 780.5,193.2 780.0,193.5 779.5,193.8 779.0,194.0 778.5,194.5ZM797.0,210.7 797.5,211.0 798.0,211.3 798.5,211.7 799.0,212.0 799.5,212.3 800.0,212.7 800.5,213.0 801.0,213.3 801.5,213.7 802.0,214.0 802.5,214.5 803.0,215.0 803.5,215.5 804.0,216.0 804.5,216.5 805.0,217.0 805.5,217.5 806.0,218.0 806.5,218.2 807.0,218.3 807.5,218.5 808.0,218.7 808.5,218.8 809.0,219.0 809.5,218.5 810.0,218.0 810.5,217.5 811.0,217.0 811.5,216.5 812.0,216.0 812.5,215.5 813.0,215.0 813.5,216.2 814.0,217.3 814.5,218.5 815.0,219.7 815.5,220.8 816.0,222.0 816.0,222.0 815.5,227.5 815.0,234.0 814.5,239.0 814.0,244.0 813.5,249.0 813.0,254.0 812.5,259.0 812.0,264.0 811.5,263.7 811.0,263.3 810.5,263.0 810.0,262.7 809.5,262.3 809.0,262.0 808.5,264.0 808.0,266.0 807.5,268.0 807.0,270.0 806.5,272.0 806.0,274.0 805.5,271.8 805.0,269.5 804.5,267.2 804.0,265.0 803.5,262.8 803.0,260.5 802.5,258.2 802.0,256.0 801.5,254.0 801.0,252.0 800.5,250.0 800.0,248.0 799.5,246.0 799.0,244.0 798.5,242.0 798.0,240.0 797.5,225.0 797.0,210.7ZM827.5,220.0 828.0,218.7 828.5,217.3 829.0,216.0 829.5,216.3 830.0,216.7 830.5,217.0 831.0,217.3 831.5,217.7 832.0,218.0 832.5,218.8 833.0,219.7 833.5,220.5 834.0,221.3 834.5,222.2 835.0,223.0 835.5,222.9 836.0,222.8 836.5,222.6 837.0,222.5 837.5,222.4 838.0,222.2 838.5,222.1 839.0,222.0 839.5,222.2 840.0,222.3 840.5,222.5 841.0,222.7 841.5,222.8 842.0,223.0 842.5,223.2 843.0,223.3 843.5,223.5 844.0,223.7 844.5,223.8 845.0,224.0 845.5,225.0 846.0,226.0 846.5,227.0 847.0,228.0 847.0,228.0 846.5,227.8 846.0,229.5 845.5,231.2 845.0,233.0 844.5,234.5 844.0,236.0 843.5,237.5 843.0,239.0 842.5,240.5 842.0,242.0 841.5,243.5 841.0,245.0 840.5,246.5 840.0,248.0 839.5,250.3 839.0,252.7 838.5,255.0 838.0,257.3 837.5,259.7 837.0,262.0 836.5,255.7 836.0,249.3 835.5,243.0 835.0,236.7 834.5,230.3 834.0,224.0 833.5,223.0 833.0,222.0 832.5,221.0 832.0,220.0 831.5,219.0 831.0,218.0 830.5,218.3 830.0,218.7 829.5,219.0 829.0,219.3 828.5,219.7 828.0,220.0 827.5,220.0ZM849.5,228.0 850.0,227.3 850.5,226.7 851.0,226.0 851.5,226.1 852.0,226.2 852.5,226.3 853.0,226.4 853.5,226.5 854.0,226.6 854.5,226.7 855.0,226.8 855.5,226.9 856.0,227.0 856.5,229.5 856.5,229.5 856.0,228.0 855.5,232.5 855.0,237.0 854.5,241.5 854.0,246.0 853.5,243.8 853.0,241.5 852.5,239.2 852.0,237.0 851.5,234.8 851.0,232.5 850.5,230.2 850.0,228.0 849.5,228.0ZM865.5,252.8 866.0,251.5 866.5,250.2 867.0,249.0 867.5,247.8 868.0,246.5 868.5,245.2 869.0,244.0 869.5,242.4 870.0,240.8 870.5,239.1 871.0,237.5 871.5,235.9 872.0,234.2 872.5,232.6 873.0,231.0 873.5,232.2 874.0,233.3 874.5,234.5 875.0,235.7 875.5,236.8 875.5,236.8 875.0,239.0 874.5,247.5 874.0,256.0 873.5,257.8 873.0,259.5 872.5,261.2 872.0,263.0 871.5,262.8 871.0,262.6 870.5,262.4 870.0,262.2 869.5,262.0 869.0,261.8 868.5,261.6 868.0,261.4 867.5,261.2 867.0,261.0 866.5,257.5 866.0,254.0 865.5,252.8ZM886.0,247.5 886.5,247.1 887.0,246.8 887.5,246.4 888.0,246.0 888.5,245.5 889.0,245.0 889.5,244.5 890.0,244.0 890.5,243.5 891.0,243.0 891.5,242.5 892.0,242.0 892.5,243.7 893.0,245.3 893.5,247.0 894.0,248.7 894.5,250.3 895.0,252.0 895.5,253.3 896.0,254.7 896.5,256.0 897.0,257.3 897.5,258.7 898.0,260.0 898.5,258.8 899.0,257.7 899.5,256.5 900.0,255.3 900.5,254.2 901.0,253.0 901.5,252.2 902.0,251.5 902.5,250.8 903.0,250.0 903.5,251.0 904.0,252.0 904.5,253.0 905.0,254.0 905.5,255.0 906.0,256.0 906.0,256.0 905.5,256.0 905.0,256.0 904.5,256.0 904.0,256.0 903.5,256.0 903.0,256.0 902.5,256.0 902.0,256.0 901.5,265.8 901.0,275.5 900.5,285.2 900.0,295.0 899.5,294.8 899.0,294.5 898.5,294.2 898.0,294.0 897.5,289.0 897.0,284.0 896.5,279.0 896.0,274.0 895.5,275.0 895.0,276.0 894.5,277.0 894.0,278.0 893.5,280.0 893.0,282.0 892.5,282.8 892.0,283.7 891.5,284.5 891.0,285.3 890.5,286.2 890.0,287.0 889.5,282.8 889.0,278.5 888.5,274.2 888.0,270.0 887.5,262.5 887.0,255.0 886.5,247.5 886.0,247.5ZM915.0,269.0 915.5,269.5 916.0,270.0 916.5,267.5 917.0,265.0 917.5,266.5 918.0,268.0 918.0,268.0 917.5,268.6 917.0,272.0 916.5,271.2 916.0,270.5 915.5,269.8 915.0,269.0ZM927.5,287.3 928.0,288.0 928.5,290.0 928.5,290.0 928.0,289.0 927.5,287.3ZM953.5,288.5 954.0,289.0 954.5,289.5 955.0,290.0 955.0,290.0 954.5,290.0 954.0,290.0 953.5,288.5ZM955.0,290.0 955.5,291.8 956.0,293.5 956.5,295.1 957.0,296.8 957.5,298.4 958.0,300.0 958.5,298.2 959.0,296.5 959.5,294.8 960.0,293.0 960.5,296.0 961.0,299.0 961.5,297.7 962.0,296.3 962.5,295.0 963.0,293.6 963.5,292.3 964.0,293.2 964.5,294.6 965.0,296.1 965.5,297.5 966.0,299.0 966.5,298.3 967.0,297.7 967.5,297.0 968.0,296.3 968.5,295.7 969.0,295.0 969.5,299.5 970.0,304.0 970.5,308.5 971.0,313.0 971.0,313.0 970.5,312.0 970.0,316.0 969.5,322.4 969.0,328.7 968.5,335.1 968.0,341.5 967.5,347.8 967.0,354.2 966.5,360.5 966.0,366.9 965.5,371.1 965.0,366.5 964.5,361.8 964.0,357.2 963.5,352.6 963.0,348.0 962.5,348.3 962.0,348.7 961.5,349.0 961.0,349.3 960.5,349.7 960.0,350.0 959.5,345.0 959.0,340.0 958.5,335.0 958.0,330.0 957.5,322.5 957.0,315.0 956.5,307.5 956.0,300.0 955.5,295.0 955.0,290.0ZM974.5,308.8 975.0,308.7 975.5,308.5 976.0,308.3 976.5,308.2 977.0,308.0 977.5,311.8 978.0,315.5 978.5,319.2 979.0,323.0 979.0,323.0 978.5,320.0 978.0,317.3 977.5,314.7 977.0,312.0 976.5,311.5 976.0,311.0 975.5,310.5 975.0,310.0 974.5,308.8ZM979.0,323.0 979.5,324.7 980.0,326.3 980.5,328.0 980.5,328.0 980.0,328.0 979.5,325.3 979.0,323.0ZM986.5,323.5 987.0,322.7 987.5,321.8 988.0,321.0 988.5,322.3 989.0,323.7 989.0,323.7 988.5,329.0 988.0,340.0 987.5,334.0 987.0,328.0 986.5,323.5ZM990.0,326.3 990.5,327.7 991.0,329.0 991.5,329.5 992.0,330.0 992.5,330.5 993.0,331.0 993.5,331.5 994.0,332.0 994.5,332.2 995.0,332.3 995.5,332.5 996.0,332.7 996.5,332.8 997.0,333.0 997.5,331.2 998.0,329.3 998.5,327.5 999.0,325.7 999.5,323.8 1000.0,322.0 1000.0,322.0 999.5,324.0 999.0,326.0 998.5,328.0 998.0,330.0 997.5,332.0 997.0,334.0 996.5,336.0 996.0,338.0 995.5,339.8 995.0,341.7 994.5,343.5 994.0,345.3 993.5,347.2 993.0,349.0 992.5,344.8 992.0,340.5 991.5,336.2 991.0,332.0 990.5,328.5 990.0,326.3ZM1011.0,315.0 1011.5,313.0 1012.0,311.0 1012.5,313.0 1013.0,315.0 1013.0,315.0 1012.5,315.4 1012.0,323.5 1011.5,322.1 1011.0,315.0ZM1027.5,331.9 1028.0,331.0 1028.5,329.7 1029.0,328.3 1029.5,327.0 1029.5,327.0 1029.0,332.2 1028.5,339.5 1028.0,335.0 1027.5,331.9ZM1047.0,314.7 1047.5,314.5 1048.0,314.3 1048.5,314.2 1049.0,314.0 1049.5,313.7 1050.0,313.3 1050.5,313.0 1051.0,312.7 1051.5,312.3 1052.0,312.0 1052.5,312.9 1053.0,313.8 1053.5,314.6 1054.0,315.5 1054.5,316.4 1055.0,317.2 1055.5,318.1 1056.0,319.0 1056.3,319.8 1056.3,320.0 1056.0,320.0 1055.5,320.0 1055.0,320.0 1054.5,320.0 1054.0,320.0 1053.5,320.0 1053.0,320.0 1052.5,328.3 1052.0,336.7 1051.5,345.0 1051.0,353.3 1050.5,361.7 1050.0,360.3 1049.5,352.4 1049.0,344.6 1048.5,336.7 1048.0,328.9 1047.5,321.0 1047.0,314.7Z" fill="#8fb1d1"/>
<path d="M80.5,370.0 81.0,370.7 81.5,371.3 81.5,371.3 81.0,375.0 80.5,370.0ZM120.5,367.5 121.0,367.4 121.5,367.2 122.0,367.1 122.5,367.0 123.0,366.8 123.5,366.5 124.0,366.2 124.5,365.9 125.0,365.6 125.5,365.4 126.0,365.1 126.5,364.8 127.0,364.5 127.5,364.8 128.0,365.5 128.5,366.3 128.5,366.3 128.0,366.0 127.5,367.6 127.0,369.2 126.5,370.8 126.0,372.3 125.5,373.9 125.0,375.5 124.5,377.1 124.0,378.7 123.5,380.2 123.0,381.8 122.5,383.4 122.0,385.0 121.5,376.7 121.0,368.3 120.5,367.5ZM242.0,344.0 242.5,343.2 243.0,342.3 243.5,341.5 243.5,341.5 243.0,351.0 242.5,346.3 242.0,344.0ZM275.5,337.4 276.0,336.8 276.5,336.2 277.0,335.6 277.5,335.0 278.0,334.4 278.5,333.8 279.0,333.2 279.5,332.6 280.0,332.0 280.5,330.9 281.0,329.8 281.5,328.6 282.0,327.5 282.5,326.4 283.0,325.2 283.0,325.2 282.5,329.2 282.0,333.3 281.5,337.5 281.0,341.7 280.5,345.8 280.0,350.0 279.5,348.8 279.0,347.5 278.5,346.2 278.0,345.0 277.5,343.8 277.0,342.5 276.5,341.2 276.0,340.0 275.5,337.4ZM375.0,300.0 375.5,300.5 376.0,301.0 376.5,301.5 377.0,302.0 377.5,300.0 377.5,300.0 377.0,303.0 376.5,302.2 376.0,301.5 375.5,300.8 375.0,300.0ZM418.0,276.0 418.5,276.8 419.0,277.7 419.5,278.5 420.0,279.3 420.5,280.2 421.0,281.0 421.5,280.4 422.0,279.8 422.5,279.1 423.0,278.5 423.5,277.9 423.5,277.9 423.0,282.0 422.5,289.2 422.0,296.4 421.5,303.6 421.0,298.1 420.5,289.6 420.0,281.0 419.5,279.8 419.0,278.5 418.5,277.2 418.0,276.0ZM427.5,273.5 428.0,273.0 428.5,272.5 429.0,272.0 429.5,272.8 429.5,272.8 429.0,278.0 428.5,276.0 428.0,274.0 427.5,273.5ZM635.0,205.0 635.5,203.5 636.0,202.0 636.5,200.8 637.0,199.5 637.5,198.2 638.0,197.0 638.5,195.8 639.0,194.5 639.5,193.2 640.0,192.0 640.5,193.2 641.0,194.5 641.5,195.8 641.5,195.8 641.0,196.0 640.5,197.0 640.0,198.0 639.5,200.5 639.0,203.0 638.5,205.5 638.0,208.0 637.5,210.5 637.0,213.0 636.5,210.8 636.0,208.7 635.5,206.5 635.0,205.0ZM646.0,194.7 646.5,192.8 647.0,191.0 647.5,191.2 648.0,191.3 648.5,191.5 649.0,191.7 649.5,191.8 650.0,192.0 650.5,192.4 651.0,192.8 651.5,193.2 652.0,193.6 652.5,194.0 652.5,194.0 652.0,194.0 651.5,195.0 651.0,196.0 650.5,197.5 650.0,199.0 649.5,200.5 649.0,202.0 648.5,203.5 648.0,205.0 647.5,201.7 647.0,198.3 646.5,195.0 646.0,194.7ZM735.5,209.7 736.0,211.0 736.5,212.2 736.5,212.2 736.0,212.0 735.5,209.7ZM765.5,220.5 766.0,220.8 766.5,221.1 767.0,221.4 767.5,221.7 768.0,222.0 768.5,222.2 769.0,222.3 769.5,222.5 769.5,222.5 769.0,225.8 768.5,230.4 768.0,235.0 767.5,231.8 767.0,228.5 766.5,225.2 766.0,222.0 765.5,220.5ZM797.5,238.3 798.0,236.7 798.5,235.0 799.0,233.3 799.5,231.7 800.0,230.0 800.5,229.8 801.0,229.5 801.5,229.2 802.0,229.0 802.5,228.8 803.0,228.5 803.5,228.2 804.0,228.0 804.5,229.2 805.0,230.5 805.5,231.8 806.0,233.0 806.5,234.2 807.0,235.5 807.5,236.8 808.0,238.0 808.5,240.7 809.0,243.3 809.5,246.0 810.0,248.7 810.5,251.3 811.0,254.0 811.5,254.6 812.0,255.2 812.5,255.9 813.0,256.5 813.0,256.5 812.5,259.0 812.0,264.0 811.5,263.7 811.0,263.3 810.5,263.0 810.0,262.7 809.5,262.3 809.0,262.0 808.5,264.0 808.0,266.0 807.5,268.0 807.0,270.0 806.5,272.0 806.0,274.0 805.5,271.8 805.0,269.5 804.5,267.2 804.0,265.0 803.5,262.8 803.0,260.5 802.5,258.2 802.0,256.0 801.5,254.0 801.0,252.0 800.5,250.0 800.0,248.0 799.5,246.0 799.0,244.0 798.5,242.0 798.0,240.0 797.5,238.3ZM889.5,284.6 890.0,286.0 890.5,289.5 890.5,289.5 890.0,287.0 889.5,284.6ZM958.0,330.7 958.5,332.5 959.0,334.3 959.5,336.2 960.0,338.0 960.5,336.3 961.0,334.7 961.5,333.0 962.0,331.3 962.5,329.7 963.0,328.0 963.5,325.2 964.0,322.5 964.5,319.8 965.0,317.0 965.5,318.5 966.0,320.0 966.5,321.5 967.0,323.0 967.5,324.5 968.0,326.0 968.5,328.0 969.0,330.0 969.0,330.0 968.5,335.1 968.0,341.5 967.5,347.8 967.0,354.2 966.5,360.5 966.0,366.9 965.5,371.1 965.0,366.5 964.5,361.8 964.0,357.2 963.5,352.6 963.0,348.0 962.5,348.3 962.0,348.7 961.5,349.0 961.0,349.3 960.5,349.7 960.0,350.0 959.5,345.0 959.0,340.0 958.5,335.0 958.0,330.7Z" fill="#2f6ea8"/>
<path d="M78.5,368.0 L79.0,368.0 L82.0,372.0 L85.0,364.0 L89.0,358.0 L92.0,376.0 L96.0,382.0 L98.6,383.2 L101.8,384.5 L105.1,388.4 L107.7,382.0 L110.3,372.9 L112.9,370.3 L119.4,367.7 L122.6,367.0 L127.2,364.4 L130.4,369.0 L135.0,363.8 L138.9,371.6 L142.1,376.8 L146.0,375.5 L150.0,386.0 L153.0,382.0 L157.0,360.0 L160.0,356.0 L163.0,350.0 L166.0,368.0 L170.0,362.0 L174.0,359.0 L177.0,358.0 L180.0,372.0 L184.0,364.0 L186.0,358.0 L189.0,376.0 L192.0,364.0 L196.0,372.0 L199.0,350.0 L203.0,360.0 L206.0,350.0 L209.0,348.0 L213.0,342.0 L216.0,350.0 L220.0,350.0 L223.0,370.0 L226.0,368.0 L229.0,370.0 L232.0,354.0 L234.4,385.0 L238.0,360.0 L242.0,344.0 L245.0,339.0 L248.0,346.0 L251.0,355.0 L254.0,348.0 L257.0,347.0 L260.0,337.0 L263.0,339.0 L267.0,342.0 L271.0,334.0 L275.0,338.0 L280.0,332.0 L284.0,323.0 L288.0,335.0 L292.0,339.0 L296.0,328.0 L299.0,336.0 L300.0,340.0 L302.0,348.0 L305.0,340.0 L308.0,318.0 L311.0,324.0 L314.0,314.0 L317.0,304.0 L320.0,314.0 L323.0,318.0 L325.0,326.0 L329.0,322.0 L334.0,318.0 L338.0,312.0 L341.0,307.0 L344.0,320.0 L347.0,328.0 L351.0,318.0 L354.0,314.0 L358.0,308.0 L362.0,311.0 L365.0,310.0 L368.0,321.0 L371.0,302.0 L374.0,299.0 L377.0,302.0 L380.0,290.0 L384.0,292.0 L387.0,288.0 L391.0,302.0 L395.0,287.0 L398.0,286.0 L402.0,297.0 L407.0,306.0 L411.0,300.0 L414.0,280.0 L418.0,276.0 L421.0,281.0 L425.0,276.0 L429.0,272.0 L432.0,277.0 L436.0,284.0 L440.0,284.0 L443.0,278.0 L448.0,278.0 L452.0,274.0 L454.0,272.0 L456.0,270.0 L460.0,268.0 L462.0,268.0 L466.0,274.0 L468.0,274.0 L472.0,266.0 L476.0,260.0 L478.0,262.0 L480.0,270.0 L481.0,272.0 L484.0,260.0 L486.0,256.0 L493.0,254.0 L496.0,244.0 L500.0,240.0 L506.0,233.0 L511.0,258.0 L514.0,246.0 L516.0,250.0 L517.0,244.0 L519.0,239.0 L520.0,237.0 L524.0,246.0 L530.0,229.0 L534.0,235.0 L537.0,232.0 L540.0,238.0 L544.0,242.0 L548.0,224.0 L552.0,230.0 L555.0,218.0 L558.0,223.0 L564.0,223.0 L567.0,220.0 L570.0,225.0 L574.0,209.0 L578.0,217.0 L582.0,218.0 L585.0,197.0 L588.0,206.0 L591.0,222.0 L596.0,229.0 L599.0,222.0 L602.0,211.0 L606.0,222.0 L609.0,226.0 L613.0,206.0 L616.0,208.0 L620.0,202.0 L623.0,182.0 L626.0,200.0 L632.0,214.0 L636.0,202.0 L640.0,192.0 L644.0,202.0 L647.0,191.0 L650.0,192.0 L655.0,196.0 L659.0,203.0 L664.0,198.0 L670.0,190.0 L674.0,202.0 L678.0,217.0 L682.0,205.0 L684.0,194.0 L687.0,198.0 L690.0,211.0 L696.0,222.0 L702.0,214.0 L708.0,207.0 L711.0,214.0 L714.0,212.0 L719.0,216.0 L722.0,202.0 L725.0,209.0 L729.0,207.0 L733.0,203.0 L736.0,211.0 L739.0,218.0 L740.0,218.0 L744.0,223.0 L747.0,216.0 L751.0,214.0 L755.0,220.0 L758.0,224.0 L763.0,219.0 L768.0,222.0 L771.0,223.0 L774.0,220.0 L777.0,210.0 L779.0,230.0 L782.0,240.0 L786.0,243.0 L790.0,252.0 L794.0,246.0 L797.0,240.0 L800.0,230.0 L804.0,228.0 L808.0,238.0 L811.0,254.0 L815.0,259.0 L820.0,255.0 L826.0,243.0 L829.0,254.0 L831.0,266.0 L835.0,264.0 L838.0,262.0 L842.0,251.0 L847.0,260.0 L851.0,260.0 L854.0,263.0 L856.0,278.0 L860.0,273.5 L864.0,282.0 L867.0,298.0 L868.0,286.0 L870.0,286.0 L874.0,286.0 L878.0,271.0 L880.0,286.0 L882.0,288.0 L884.0,287.0 L886.0,275.0 L890.0,286.0 L892.0,300.0 L896.0,290.0 L900.0,298.0 L905.0,322.0 L908.0,304.0 L911.0,300.0 L914.0,288.0 L917.0,304.0 L922.0,312.0 L926.0,314.0 L930.0,328.0 L934.0,318.0 L938.0,321.0 L940.0,310.0 L941.0,308.0 L943.0,309.0 L945.0,317.0 L947.0,317.0 L948.0,334.0 L950.0,334.0 L952.0,337.0 L954.0,334.0 L956.0,332.0 L957.0,327.0 L960.0,338.0 L963.0,328.0 L965.0,317.0 L968.0,326.0 L971.0,338.0 L974.0,342.0 L977.0,340.0 L980.0,360.0 L983.0,366.0 L985.0,374.0 L988.0,356.0 L991.0,354.0 L994.0,364.0 L998.0,362.0 L1002.0,344.0 L1005.0,342.0 L1008.0,348.0 L1012.0,341.0 L1015.0,346.0 L1019.0,360.0 L1021.0,374.0 L1024.0,355.0 L1027.0,360.0 L1030.0,367.8 L1031.4,370.6 L1034.2,381.8 L1037.0,374.8 L1040.5,372.0 L1043.3,374.8 L1045.4,379.0 L1047.5,363.6 L1051.0,369.2 L1054.5,377.6 L1057.3,383.2 L1060.1,391.6 L1063.6,387.4 L1065.7,390.2 L1069.2,388.8 L1072.0,376.2 L1075.5,365.0" fill="none" stroke="#a8d5e6" stroke-width="1.4" stroke-dasharray="5.2,2.2"/>
<path d="M78.0,295.0 L82.0,294.0 L86.0,289.0 L89.0,280.0 L92.0,284.0 L94.0,270.0 L96.0,263.0 L97.6,262.0 L99.0,280.0 L101.0,296.0 L104.0,286.0 L107.0,288.0 L109.0,304.0 L111.0,318.0 L114.0,312.0 L118.0,308.0 L122.0,302.0 L126.0,295.0 L130.0,297.0 L134.0,291.0 L138.0,290.0 L142.0,298.0 L146.0,300.0 L150.0,308.0 L154.0,304.0 L158.0,292.0 L162.0,284.0 L166.0,278.0 L169.0,282.0 L172.0,286.0 L176.0,304.0 L180.0,300.0 L185.0,294.0 L188.0,300.0 L190.0,292.8 L192.4,283.8 L194.2,278.4 L196.3,277.5 L199.0,281.4 L201.4,298.2 L204.4,274.2 L205.6,277.8 L209.8,298.2 L212.8,288.0 L215.8,289.8 L220.6,294.6 L223.6,280.8 L226.0,276.0 L231.4,285.6 L234.4,275.4 L237.4,281.4 L240.0,277.8 L244.0,264.0 L248.0,274.0 L252.0,276.0 L256.0,284.0 L260.0,270.0 L264.0,260.0 L268.0,272.0 L270.0,278.0 L274.0,269.0 L280.0,268.0 L284.0,265.0 L288.0,268.0 L292.0,253.0 L296.0,265.0 L300.0,253.5 L303.0,249.0 L306.0,264.0 L308.0,261.0 L311.0,266.0 L314.0,274.0 L317.0,248.0 L319.6,238.0 L323.0,244.0 L326.0,246.0 L330.0,262.0 L333.0,250.0 L336.0,240.0 L338.4,230.0 L341.0,232.0 L344.0,246.0 L348.0,250.0 L352.0,252.0 L356.0,250.0 L361.0,228.0 L364.0,228.0 L368.0,234.0 L374.0,238.0 L379.0,230.0 L383.0,234.0 L388.0,224.0 L391.0,227.0 L394.0,228.0 L399.0,216.0 L402.4,230.0 L404.4,239.0 L408.0,216.0 L415.0,211.0 L418.0,219.0 L422.0,212.0 L426.0,207.0 L430.0,203.0 L434.0,194.0 L437.0,193.0 L440.0,196.0 L443.0,227.0 L445.0,207.0 L448.0,230.0 L453.0,198.0 L456.0,210.0 L460.0,200.0 L464.0,181.0 L467.0,192.0 L470.0,185.6 L475.4,198.2 L484.4,187.4 L491.6,178.4 L495.2,173.0 L500.6,187.4 L508.7,167.6 L513.2,156.8 L518.6,169.4 L520.0,166.0 L524.0,150.0 L527.0,144.0 L530.0,154.0 L533.0,162.0 L536.0,146.0 L539.0,134.0 L542.0,144.0 L545.0,162.0 L548.0,154.0 L551.0,140.0 L555.0,146.0 L558.0,130.0 L561.0,126.0 L564.0,128.0 L567.0,138.0 L570.0,148.0 L573.0,142.0 L577.0,154.0 L580.0,147.0 L584.0,140.0 L587.0,139.0 L590.0,142.0 L594.0,144.0 L597.0,148.0 L599.0,132.0 L602.0,139.0 L605.0,141.0 L608.0,130.0 L610.0,121.0 L613.0,130.0 L616.0,127.0 L618.0,114.0 L621.0,126.0 L624.0,127.0 L628.0,129.0 L631.0,136.0 L634.0,142.0 L637.0,130.0 L640.0,133.0 L642.0,131.0 L646.0,146.0 L650.0,156.0 L654.0,142.0 L659.0,121.0 L664.0,138.0 L668.0,136.0 L671.0,141.0 L674.0,128.0 L678.0,124.0 L681.0,126.0 L686.0,114.0 L690.0,144.0 L696.0,136.0 L700.0,132.0 L703.0,140.0 L706.0,116.0 L710.0,123.0 L713.0,111.0 L716.0,120.0 L720.0,130.0 L724.0,144.0 L728.0,136.0 L732.0,133.0 L736.0,145.0 L738.4,140.0 L740.0,140.0 L741.0,154.0 L744.0,168.0 L747.0,164.0 L750.0,163.0 L752.0,146.0 L755.0,136.0 L758.0,142.0 L761.0,148.0 L765.0,147.0 L768.0,152.0 L771.0,167.0 L774.0,168.0 L777.0,174.0 L780.0,173.0 L785.0,168.0 L788.0,160.0 L792.0,168.0 L796.0,186.0 L799.0,174.0 L802.0,188.0 L806.0,190.0 L811.0,194.0 L815.0,191.0 L820.0,196.0 L823.6,185.0 L826.0,194.0 L829.0,184.0 L834.0,188.0 L837.0,170.0 L840.0,186.0 L843.0,198.0 L848.0,190.0 L851.0,192.0 L854.0,198.0 L858.0,206.0 L862.0,206.0 L867.0,194.0 L872.0,192.0 L875.4,178.0 L878.0,194.0 L880.0,207.8 L882.7,200.6 L885.4,207.8 L888.6,219.5 L891.7,182.6 L893.5,197.0 L895.3,209.6 L897.1,218.6 L899.8,216.8 L902.5,216.8 L905.2,220.4 L908.8,231.2 L911.5,240.2 L915.1,242.0 L917.8,243.8 L920.5,251.0 L923.2,243.8 L925.9,252.8 L928.6,243.8 L930.4,242.0 L933.1,260.0 L935.5,262.0 L937.6,260.0 L941.2,247.4 L943.9,252.8 L946.6,242.0 L949.3,249.2 L952.0,248.3 L953.8,256.4 L956.0,274.0 L958.0,276.0 L961.0,273.0 L963.0,276.0 L966.0,265.0 L968.0,264.0 L971.0,256.0 L973.0,276.0 L974.0,272.0 L976.4,258.0 L979.0,276.0 L982.0,279.0 L987.0,276.0 L990.0,286.0 L997.0,298.0 L1002.0,290.0 L1009.0,276.0 L1012.0,288.0 L1016.0,294.0 L1020.0,296.0 L1024.0,296.0 L1028.0,290.0 L1032.0,284.0 L1036.0,290.0 L1040.0,292.0 L1044.0,284.0 L1048.0,279.0 L1052.0,288.0 L1056.0,286.0 L1060.0,287.0 L1064.0,294.0 L1068.0,292.0 L1072.0,298.0 L1075.5,298.0" fill="none" stroke="#ff0000" stroke-width="0.8" stroke-dasharray="2.57,1.11"/>
<path d="M78.5,328.0 L79.0,328.0 L81.0,375.0 L84.0,328.0 L89.0,285.0 L93.0,334.0 L95.0,346.0 L100.0,274.0 L103.0,296.0 L105.6,280.0 L108.2,333.0 L111.0,369.0 L113.6,362.0 L116.0,366.0 L119.0,335.0 L122.0,385.0 L128.0,366.0 L130.0,328.0 L136.0,288.0 L138.4,302.0 L142.0,284.0 L144.0,282.0 L146.4,300.0 L149.6,267.0 L153.0,320.0 L157.0,337.0 L160.0,326.0 L168.4,310.0 L171.0,320.0 L171.6,346.0 L174.0,304.0 L176.0,328.0 L180.0,353.0 L185.0,338.0 L190.0,296.0 L195.0,310.0 L198.4,282.0 L201.6,304.0 L206.0,280.0 L209.6,296.0 L213.0,276.0 L215.0,298.0 L218.0,264.0 L221.0,288.0 L223.6,302.0 L228.0,298.0 L230.0,302.0 L233.0,320.0 L235.0,326.0 L238.0,304.0 L243.0,351.0 L245.0,312.0 L248.0,280.0 L251.0,278.0 L253.6,280.0 L257.0,262.0 L259.0,263.0 L262.0,291.0 L267.0,290.0 L271.0,300.0 L276.0,340.0 L280.0,350.0 L286.0,300.0 L288.0,262.0 L292.0,234.0 L295.0,238.0 L296.0,300.0 L297.6,294.0 L300.0,303.5 L303.0,315.0 L305.0,298.0 L308.0,298.0 L310.0,294.0 L315.6,294.3 L322.6,258.7 L324.7,260.0 L328.2,280.3 L330.3,265.0 L333.1,251.0 L335.9,248.2 L340.8,241.2 L343.6,251.0 L346.6,235.6 L349.2,251.0 L352.0,255.2 L354.5,244.0 L356.2,254.5 L359.0,270.6 L363.1,297.6 L366.0,303.0 L369.0,302.0 L371.0,296.0 L373.0,278.0 L375.0,300.0 L377.0,303.0 L379.0,280.0 L382.0,285.0 L386.0,278.0 L388.4,248.0 L390.4,236.0 L392.0,256.0 L395.0,272.0 L396.0,270.0 L397.0,274.0 L401.0,221.0 L404.0,221.0 L406.6,215.0 L409.0,242.0 L411.6,218.0 L414.0,246.0 L416.0,250.0 L418.0,276.0 L420.0,281.0 L421.4,305.0 L423.0,282.0 L424.0,266.0 L425.0,272.0 L427.0,270.0 L429.0,278.0 L430.0,264.0 L431.0,270.0 L434.0,256.0 L436.0,264.0 L439.0,246.0 L442.0,254.0 L445.0,257.0 L448.0,246.0 L453.0,212.0 L456.0,234.0 L458.0,240.0 L462.0,252.0 L466.0,254.0 L470.0,244.0 L472.0,236.0 L478.0,220.0 L483.5,179.3 L486.2,178.4 L488.9,163.1 L491.6,187.4 L496.0,244.0 L500.0,216.0 L504.0,210.0 L505.6,187.4 L509.0,195.0 L511.0,215.0 L514.0,184.0 L516.4,134.3 L521.3,164.0 L524.9,146.0 L527.6,200.0 L536.6,151.4 L544.0,138.0 L547.0,140.0 L550.0,133.0 L552.0,148.0 L555.0,119.0 L559.0,174.0 L560.4,176.0 L564.0,124.0 L568.4,114.0 L571.6,109.0 L574.0,115.0 L576.0,174.0 L579.0,174.0 L582.0,144.0 L585.0,152.0 L588.0,186.0 L590.0,205.0 L593.0,205.0 L595.0,182.0 L598.0,156.0 L601.6,144.0 L604.0,168.0 L605.0,180.0 L607.0,172.0 L610.0,170.0 L612.0,177.0 L614.0,158.0 L618.0,126.0 L620.0,168.0 L629.0,198.0 L631.0,182.0 L634.0,200.0 L637.0,213.0 L640.0,198.0 L643.0,192.0 L645.0,185.0 L648.0,205.0 L651.0,196.0 L654.0,190.0 L656.0,188.0 L659.0,184.0 L663.0,183.0 L665.0,173.0 L667.0,146.0 L669.0,164.0 L674.0,122.0 L678.0,116.0 L681.0,133.0 L684.0,108.0 L688.4,101.0 L692.0,126.0 L695.0,126.0 L698.0,106.0 L701.0,110.0 L704.0,142.0 L705.0,170.0 L706.0,186.0 L708.0,186.0 L711.0,198.0 L714.0,206.0 L718.0,190.0 L721.0,170.0 L725.0,122.0 L728.0,170.0 L730.0,177.5 L734.5,194.0 L736.0,212.0 L738.2,164.7 L740.5,191.0 L743.5,221.0 L746.5,192.5 L751.7,193.2 L754.7,170.0 L757.7,138.0 L760.0,159.5 L762.0,196.0 L768.0,235.0 L772.0,198.0 L773.5,197.0 L779.0,194.0 L783.0,192.0 L784.0,190.0 L788.0,170.0 L793.0,123.0 L795.0,140.0 L796.0,192.0 L797.0,210.0 L798.0,240.0 L802.0,256.0 L806.0,274.0 L809.0,262.0 L812.0,264.0 L815.0,234.0 L817.0,208.0 L818.0,200.0 L819.0,214.0 L828.0,220.0 L831.0,218.0 L834.0,224.0 L837.0,262.0 L840.0,248.0 L845.0,233.0 L847.0,226.0 L850.0,228.0 L854.0,246.0 L856.0,228.0 L861.0,221.0 L864.0,240.0 L867.0,261.0 L872.0,263.0 L874.0,256.0 L876.0,222.0 L879.0,202.0 L883.2,180.0 L886.0,240.0 L888.0,270.0 L890.0,287.0 L893.0,282.0 L894.0,278.0 L896.0,274.0 L898.0,294.0 L900.0,295.0 L902.0,256.0 L906.0,256.0 L911.0,220.0 L913.0,266.0 L917.0,272.0 L922.0,238.0 L925.0,276.0 L928.0,289.0 L931.0,274.0 L933.0,280.0 L936.0,270.0 L940.0,225.0 L944.0,212.0 L945.0,212.0 L947.0,215.0 L951.0,256.0 L954.0,290.0 L955.0,290.0 L956.0,300.0 L958.0,330.0 L960.0,350.0 L963.0,348.0 L965.6,372.0 L970.0,316.0 L973.0,292.0 L975.0,310.0 L977.0,312.0 L980.0,328.0 L982.0,300.0 L984.4,299.0 L987.0,328.0 L988.0,340.0 L989.0,318.0 L991.0,332.0 L993.0,349.0 L996.0,338.0 L1000.0,322.0 L1002.2,305.2 L1006.5,277.2 L1009.4,289.2 L1011.8,326.8 L1014.2,287.6 L1017.4,294.0 L1023.8,297.2 L1028.6,340.4 L1031.4,283.0 L1036.0,281.5 L1039.2,259.0 L1045.0,292.0 L1047.0,313.2 L1050.3,365.0 L1053.0,320.0 L1055.0,320.0 L1056.3,320.0" fill="none" stroke="#000" stroke-width="1.15" stroke-linejoin="round"/>
<path d="M78.5,323.0 L79.0,323.0 L81.0,322.0 L84.0,332.0 L87.0,329.0 L90.0,325.0 L93.0,333.0 L96.0,323.0 L99.0,326.0 L102.0,335.0 L104.0,340.0 L106.0,333.0 L108.4,350.0 L111.0,344.0 L114.0,340.0 L117.0,334.0 L119.6,323.0 L123.0,335.0 L126.0,330.0 L128.0,327.0 L131.0,337.0 L134.0,332.0 L139.0,322.0 L142.0,332.0 L145.0,347.0 L148.0,342.0 L152.0,335.0 L155.0,339.0 L158.0,341.0 L161.0,323.0 L164.0,326.0 L168.0,338.0 L171.0,339.0 L174.0,322.0 L178.0,329.0 L181.0,333.0 L184.0,338.0 L188.0,336.0 L191.0,337.0 L194.0,324.0 L197.0,321.0 L199.0,322.0 L202.0,315.0 L205.0,321.0 L209.0,314.0 L214.0,321.0 L218.0,315.0 L222.0,311.0 L225.0,314.0 L230.0,315.0 L235.0,326.0 L239.0,303.0 L242.0,304.0 L245.0,310.0 L248.0,311.0 L251.0,320.0 L254.0,324.0 L257.0,321.0 L260.0,302.0 L264.0,304.0 L267.0,294.0 L271.0,300.0 L276.0,304.0 L280.0,286.0 L284.0,289.0 L286.0,290.0 L291.0,292.0 L296.0,303.5 L299.0,306.0 L300.0,298.0 L302.0,302.0 L306.0,286.0 L309.0,297.0 L312.0,286.0 L314.0,284.0 L317.0,272.0 L320.0,286.0 L323.0,285.0 L326.0,289.0 L329.0,284.0 L333.0,292.0 L336.0,286.0 L339.0,275.0 L343.0,287.0 L346.0,285.0 L350.0,273.0 L353.0,275.0 L356.0,289.0 L359.0,278.0 L360.0,268.0 L363.0,268.0 L365.0,266.0 L368.0,267.0 L371.0,266.0 L372.0,268.0 L373.0,272.0 L375.0,279.0 L378.0,272.0 L379.0,270.0 L382.0,259.0 L384.0,261.0 L385.0,261.0 L388.0,252.0 L393.0,248.0 L396.0,266.0 L400.0,270.0 L403.0,274.0 L406.0,268.0 L410.0,276.0 L414.0,262.0 L418.0,248.0 L421.0,246.0 L424.0,230.0 L426.4,228.0 L429.0,235.0 L432.0,234.0 L435.0,240.0 L438.4,242.0 L442.0,252.0 L445.0,260.0 L448.0,250.0 L453.0,242.0 L456.0,238.0 L461.0,223.0 L464.0,230.0 L467.0,235.0 L470.0,230.0 L473.0,235.0 L476.0,224.0 L480.0,223.0 L485.0,216.0 L488.0,219.0 L491.0,221.0 L494.0,202.0 L497.0,216.0 L500.0,216.0 L504.0,204.0 L507.0,191.0 L511.0,190.0 L514.0,204.0 L516.0,206.0 L518.0,206.0 L519.0,202.0 L520.0,204.0 L522.0,194.0 L525.0,211.0 L528.0,200.0 L531.0,202.0 L532.0,208.0 L535.0,205.0 L538.2,176.0 L541.0,189.5 L544.0,196.0 L546.0,186.0 L547.0,188.0 L550.0,189.0 L553.0,187.0 L554.0,182.0 L556.0,178.0 L558.0,176.0 L559.0,177.0 L562.0,179.0 L566.0,184.5 L569.0,188.0 L570.0,188.0 L572.0,192.0 L573.0,178.0 L576.0,174.0 L579.0,183.0 L582.0,181.0 L585.0,181.0 L588.0,188.0 L589.0,186.0 L592.0,185.0 L593.0,184.0 L595.0,173.0 L596.0,165.0 L599.0,166.0 L602.0,160.0 L605.0,174.0 L608.0,172.0 L611.0,179.0 L613.0,167.0 L616.0,170.0 L619.0,167.0 L621.0,158.0 L625.0,160.0 L629.0,154.0 L632.0,166.0 L635.0,164.0 L638.0,168.0 L641.0,174.0 L645.0,166.0 L649.0,170.0 L653.0,178.0 L656.0,162.0 L658.0,170.0 L661.0,168.0 L664.0,176.0 L668.0,165.0 L672.0,172.0 L676.0,172.0 L681.0,164.0 L684.0,170.0 L688.4,162.0 L692.0,174.0 L696.0,172.0 L699.0,166.0 L702.0,171.0 L705.0,170.0 L709.0,182.0 L713.0,170.0 L715.0,170.8 L718.0,172.3 L721.7,180.5 L724.7,176.8 L727.7,173.8 L730.7,179.8 L733.0,162.5 L735.2,174.5 L737.5,188.0 L739.7,191.0 L742.7,185.8 L746.5,179.0 L750.2,185.0 L754.0,186.5 L757.0,189.5 L760.7,197.0 L763.7,191.0 L766.0,183.5 L768.2,186.5 L771.2,183.5 L775.0,188.0 L778.0,197.0 L779.0,192.0 L780.0,190.0 L782.0,198.0 L785.0,203.0 L787.0,210.0 L790.0,224.0 L793.0,216.0 L796.0,210.0 L799.0,212.0 L802.0,214.0 L806.0,218.0 L809.0,219.0 L813.0,215.0 L816.0,222.0 L819.0,215.0 L823.0,218.0 L826.0,224.0 L829.0,216.0 L832.0,218.0 L835.0,223.0 L839.0,222.0 L845.0,224.0 L848.0,230.0 L851.0,226.0 L856.0,227.0 L859.0,242.0 L862.0,246.0 L865.0,254.0 L869.0,244.0 L873.0,231.0 L876.0,238.0 L879.0,244.0 L882.0,242.0 L884.0,249.0 L888.0,246.0 L892.0,242.0 L895.0,252.0 L898.0,260.0 L901.0,253.0 L903.0,250.0 L906.0,256.0 L909.0,266.0 L912.0,266.0 L916.0,270.0 L917.0,265.0 L920.0,274.0 L924.0,280.0 L925.0,284.0 L928.0,288.0 L930.0,296.0 L933.0,282.0 L936.0,289.0 L940.0,284.0 L943.0,283.0 L944.0,274.0 L946.0,285.0 L948.0,286.0 L949.0,291.5 L952.0,289.0 L953.0,288.0 L955.0,290.0 L956.0,293.5 L958.0,300.0 L960.0,293.0 L961.0,299.0 L963.6,292.0 L966.0,299.0 L969.0,295.0 L971.0,313.0 L974.0,309.0 L977.0,308.0 L979.0,323.0 L982.0,333.0 L985.0,326.0 L988.0,321.0 L991.0,329.0 L994.0,332.0 L997.0,333.0 L1000.0,322.0 L1003.0,316.0 L1006.0,320.0 L1008.0,314.0 L1010.0,319.0 L1012.0,311.0 L1015.0,323.0 L1017.0,328.0 L1020.0,344.0 L1024.0,338.0 L1028.0,331.0 L1031.0,323.0 L1034.0,325.0 L1037.0,333.0 L1039.0,328.0 L1041.0,323.0 L1044.0,326.0 L1046.0,315.0 L1049.0,314.0 L1052.0,312.0 L1056.0,319.0 L1060.0,329.0 L1064.0,340.0 L1067.0,348.0 L1070.0,333.0 L1074.0,332.0 L1076.0,331.0" fill="none" stroke="#000" stroke-width="2.8" stroke-linejoin="round"/>
</g>
<rect x="78.5" y="60.5" width="997.0" height="385.0" fill="none" stroke="#000" stroke-width="1.0"/>
<g stroke="#000" stroke-width="1.0"><line x1="73.6" x2="78.5" y1="439.7" y2="439.7"/><line x1="73.6" x2="78.5" y1="388.4" y2="388.4"/><line x1="73.6" x2="78.5" y1="337.1" y2="337.1"/><line x1="73.6" x2="78.5" y1="285.7" y2="285.7"/><line x1="73.6" x2="78.5" y1="234.4" y2="234.4"/><line x1="73.6" x2="78.5" y1="183.1" y2="183.1"/><line x1="73.6" x2="78.5" y1="131.7" y2="131.7"/><line x1="73.6" x2="78.5" y1="80.4" y2="80.4"/><line x1="78.5" x2="78.5" y1="445.5" y2="450.4"/><line x1="163.4" x2="163.4" y1="445.5" y2="450.4"/><line x1="240.1" x2="240.1" y1="445.5" y2="450.4"/><line x1="325.0" x2="325.0" y1="445.5" y2="450.4"/><line x1="407.2" x2="407.2" y1="445.5" y2="450.4"/><line x1="492.1" x2="492.1" y1="445.5" y2="450.4"/><line x1="574.3" x2="574.3" y1="445.5" y2="450.4"/><line x1="659.2" x2="659.2" y1="445.5" y2="450.4"/><line x1="744.1" x2="744.1" y1="445.5" y2="450.4"/><line x1="826.2" x2="826.2" y1="445.5" y2="450.4"/><line x1="911.2" x2="911.2" y1="445.5" y2="450.4"/><line x1="993.3" x2="993.3" y1="445.5" y2="450.4"/></g>
<rect x="185.8" y="476.9" width="781.8" height="40" rx="3" fill="#fff" fill-opacity="0.8" stroke="#d5d5d5" stroke-width="1.1"/>
<line x1="192.5" x2="224.6" y1="491.4" y2="491.4" stroke="#ff0000" stroke-width="0.8" stroke-dasharray="2.57,1.11"/>
<line x1="370.3" x2="403.9" y1="491.4" y2="491.4" stroke="#a8d5e6" stroke-width="1.4" stroke-dasharray="5.2,2.2"/>
<line x1="537.4" x2="573.2" y1="491.4" y2="491.4" stroke="#000" stroke-width="2.8"/>
<line x1="798.9" x2="833.2" y1="491.4" y2="491.4" stroke="#000" stroke-width="1.15"/>
<text transform="scale(1.1325,1)" x="316.49 330.70 341.03 362.25 376.05 390.17 398.68 413.25 421.09 435.42 443.93 457.68 463.77 483.55 497.34 511.59 517.25 531.00 538.03 552.28 557.94 572.03 581.02 586.67 600.42 607.22 615.40 621.60 637.86 646.37 659.63 671.72 686.04 695.03" y="31.80" font-size="25" fill="#2b6ca8">Temperatura Media diaria - Arazuri</text><text transform="scale(1.0472,1)" x="46.75 53.55" y="54.50" font-size="17" fill="#000">°C</text><text transform="scale(1.1286,1)" x="72.34 84.05 88.52 93.94 98.00 112.07 121.31 126.55 131.62 141.01 155.24 164.79 169.62 174.30 183.70 193.10 202.49 211.75 217.22 226.62 235.88 241.34 250.74" y="54.70" font-size="17" fill="#000">Última temp: 2025-12-24</text><text transform="scale(1.0073,1)" x="89.11 110.92 132.73 154.55 158.17 172.81 191.73 206.85 221.77 233.68 247.65 261.62 276.45 283.27 299.11 313.44" y="83.60" font-size="22.22" fill="#2b6ca8">WWW.EMBALSES.NET</text><text transform="scale(1.2538,1)" x="33.04 44.60" y="446.03" font-size="19.8" fill="#000">−5</text><text transform="scale(1.1093,1)" x="51.04" y="394.70" font-size="19.8" fill="#000">0</text><text transform="scale(1.1093,1)" x="51.55" y="343.37" font-size="19.8" fill="#000">5</text><text transform="scale(1.1093,1)" x="40.28 51.30" y="292.03" font-size="19.8" fill="#000">10</text><text transform="scale(1.1093,1)" x="40.68 51.69" y="240.69" font-size="19.8" fill="#000">15</text><text transform="scale(1.1093,1)" x="40.40 51.41" y="189.36" font-size="19.8" fill="#000">20</text><text transform="scale(1.1093,1)" x="40.34 51.35" y="138.02" font-size="19.8" fill="#000">25</text><text transform="scale(1.1093,1)" x="40.68 51.69" y="86.69" font-size="19.8" fill="#000">30</text><text transform="scale(1.0012,1)" x="61.94 73.45 83.85" y="469.00" font-size="17.6" fill="#000">Ene</text><text transform="scale(0.9732,1)" x="152.35 163.02 172.79" y="469.00" font-size="17.6" fill="#000">Feb</text><text transform="scale(1.0377,1)" x="215.98 230.27 240.46" y="469.00" font-size="17.6" fill="#000">Mar</text><text transform="scale(1.0530,1)" x="295.12 306.53 316.78" y="469.00" font-size="17.6" fill="#000">Abr</text><text transform="scale(1.0365,1)" x="375.96 390.26 400.44" y="469.00" font-size="17.6" fill="#000">May</text><text transform="scale(0.9179,1)" x="521.87 529.81 541.32" y="469.00" font-size="17.6" fill="#000">Jun</text><text transform="scale(0.8940,1)" x="631.24 639.40 650.84" y="469.00" font-size="17.6" fill="#000">Jul</text><text transform="scale(1.0277,1)" x="625.98 637.65 647.76" y="469.00" font-size="17.6" fill="#000">Ago</text><text transform="scale(1.0033,1)" x="725.69 737.05 747.43" y="469.00" font-size="17.6" fill="#000">Sep</text><text transform="scale(1.0527,1)" x="770.97 784.00 793.41" y="469.00" font-size="17.6" fill="#000">Oct</text><text transform="scale(1.0395,1)" x="860.59 872.95 883.10" y="469.00" font-size="17.6" fill="#000">Nov</text><text transform="scale(1.0477,1)" x="934.55 947.28 951.42" y="469.00" font-size="17.6" fill="#000">Dic</text><text transform="scale(1.0972,1)" x="216.00 226.20 235.35 241.23 249.27 258.76 268.92 274.48 278.70 282.75 287.63 297.30" y="496.50" font-size="17" fill="#000">Percentil 95</text><text transform="scale(1.0943,1)" x="379.57 389.79 398.96 404.86 412.92 422.44 432.62 438.19 442.42 446.49 451.39" y="496.50" font-size="17" fill="#000">Percentil 5</text><text transform="scale(1.1010,1)" x="528.77 538.51 545.62 560.15 569.62 579.28 585.14 595.11 600.51 610.32 616.17 625.58 629.80 643.35 652.81 662.56 666.46 675.90 685.34" y="496.50" font-size="17" fill="#000">Temperatura Mediana</text><text transform="scale(1.0918,1)" x="774.63 784.55 787.59 791.88 805.52 815.06 824.87 828.83 838.30 843.22 852.93 862.65 872.36" y="496.50" font-size="17" fill="#000">T. Media 2025</text>

</svg>
</body></html>
